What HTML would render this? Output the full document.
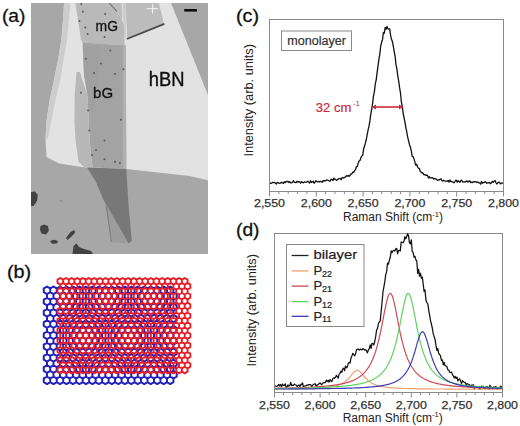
<!DOCTYPE html>
<html><head><meta charset="utf-8"><style>html,body{margin:0;padding:0;background:#fff;width:520px;height:426px;overflow:hidden}svg{display:block}</style></head>
<body>
<svg width="520" height="426" viewBox="0 0 520 426" font-family='"Liberation Sans", sans-serif'>
<defs><clipPath id="micclip"><rect x="31" y="3" width="177" height="251"/></clipPath>
<filter id="soft" x="0" y="0" width="1" height="1"><feGaussianBlur stdDeviation="0.5"/></filter><filter id="soft2" x="-5%" y="-5%" width="110%" height="110%"><feGaussianBlur stdDeviation="0.65"/></filter></defs>
<rect width="520" height="426" fill="#fff"/>
<g clip-path="url(#micclip)"><g filter="url(#soft)"><rect x="31" y="3" width="177" height="251" fill="#a7a7a7"/><polygon points="64.1,3.0 171.0,3.0 208.0,95.0 208.0,180.2 189.7,176.0 126.3,169.0 87.0,167.6 78.3,166.6 59.2,163.5 46.5,157.0 45.5,140.0 46.6,120.0 49.7,100.0 54.0,80.0 58.0,60.0 61.3,40.0 63.0,20.0" fill="#e2e2e2" /><polygon points="64.1,3.0 70.5,3.0 69.0,20.0 67.0,40.0 63.5,60.0 60.4,80.0 55.5,100.0 51.5,120.0 48.0,138.0 45.5,140.0 46.6,120.0 49.7,100.0 54.0,80.0 58.0,60.0 61.3,40.0 63.0,20.0" fill="#cdcdcd" /><polygon points="75.4,3.0 109.3,3.0 116.4,10.6 122.0,20.0 124.0,25.0 124.5,45.5 82.6,42.5 81.0,40.0 78.0,20.0" fill="#b9b9b9" /><polygon points="109.3,3.0 121.6,3.0 122.5,20.0 116.4,10.6" fill="#bdbdbd" /><polygon points="122.5,3.0 125.5,3.0 125.8,38.0 124.5,38.0" fill="#cacaca" /><polygon points="125.5,3.0 158.8,3.0 164.2,24.2 127.2,39.0" fill="#bcbcbc" /><line x1="126.8" y1="39" x2="164.4" y2="23.8" stroke="#4a4a4a" stroke-width="1.8"/><line x1="109.3" y1="3" x2="117" y2="11.5" stroke="#666" stroke-width="1.1"/><polygon points="82.6,42.5 125.8,45.5 126.3,169.0 92.5,167.6 89.5,140.0 88.5,115.0 87.5,95.0 84.0,75.0" fill="#a3a3a3" /><polygon points="122.8,45.0 125.8,45.0 126.3,169.0 122.8,169.0" fill="#b0b0b0" /><polygon points="83.0,46.0 100.0,46.0 98.0,80.0 94.0,110.0 89.0,112.0 87.5,95.0 84.0,75.0" fill="#a0a0a0" /><polygon points="76.5,72.0 80.0,72.0 84.0,85.0 87.5,95.0 88.5,115.0 89.5,140.0 92.5,167.6 84.0,167.0 78.5,162.0 75.5,140.0 74.5,122.0 74.7,95.0" fill="#b8b8b8" /><polygon points="87.0,167.6 126.3,169.0 128.5,205.0 131.8,240.7 128.5,243.5 109.5,210.4 104.0,201.0 96.0,182.0" fill="#787878" /><polygon points="104.0,201.0 109.5,210.4 128.5,243.5 112.0,242.0" fill="#9c9c9c" /><line x1="106.5" y1="206" x2="111.3" y2="242" stroke="#7a7a7a" stroke-width="1"/><polygon points="31.0,192.0 35.0,191.5 37.8,195.0 37.0,201.0 33.5,206.0 31.0,206.0" fill="#424242" /><polygon points="40.5,226.0 44.0,224.5 48.0,226.0 48.8,231.0 46.0,234.5 41.5,233.5 40.0,230.0" fill="#424242" /><polygon points="50.0,241.0 54.0,239.8 58.0,241.0 57.0,243.6 52.0,243.8" fill="#424242" /><polygon points="66.0,238.0 70.5,232.0 74.5,230.0 75.0,233.0 71.0,237.0 67.5,240.0" fill="#424242" /><polygon points="72.5,254.0 73.5,246.0 76.5,243.5 79.0,247.0 84.0,249.0 91.0,251.0 93.0,254.0" fill="#424242" /><polygon points="59.5,200.0 62.5,200.5 63.0,202.0 60.0,201.5" fill="#8a8a8a" /><circle cx="81.2" cy="4.1" r="1.0" fill="#5a5a5a"/><circle cx="82.9" cy="11.7" r="1.0" fill="#5a5a5a"/><circle cx="105.2" cy="14.1" r="1.0" fill="#5a5a5a"/><circle cx="85.3" cy="27.6" r="1.0" fill="#5a5a5a"/><circle cx="87.6" cy="34.0" r="1.0" fill="#5a5a5a"/><circle cx="104.6" cy="37.0" r="1.0" fill="#5a5a5a"/><circle cx="79.4" cy="21.0" r="1.0" fill="#5a5a5a"/><circle cx="110.4" cy="50.6" r="1.0" fill="#5a5a5a"/><circle cx="101.0" cy="63.5" r="1.0" fill="#5a5a5a"/><circle cx="123.3" cy="69.3" r="1.0" fill="#5a5a5a"/><circle cx="94.0" cy="72.9" r="1.0" fill="#5a5a5a"/><circle cx="85.8" cy="58.8" r="1.0" fill="#5a5a5a"/><circle cx="115.0" cy="74.0" r="1.0" fill="#5a5a5a"/><circle cx="88.1" cy="110.4" r="1.0" fill="#5a5a5a"/><circle cx="121.0" cy="119.8" r="1.0" fill="#5a5a5a"/><circle cx="89.3" cy="130.4" r="1.0" fill="#5a5a5a"/><circle cx="81.0" cy="92.8" r="1.0" fill="#5a5a5a"/><circle cx="104.5" cy="140.6" r="1.0" fill="#5a5a5a"/><circle cx="104.5" cy="159.3" r="1.0" fill="#5a5a5a"/><circle cx="115.0" cy="161.7" r="1.0" fill="#5a5a5a"/><circle cx="119.8" cy="162.9" r="1.0" fill="#5a5a5a"/><circle cx="96.0" cy="150.0" r="1.0" fill="#5a5a5a"/><circle cx="92.0" cy="155.0" r="1.0" fill="#5a5a5a"/><path d="M146.7 8.7H158.2M152.6 4V13.5" stroke="#f4f4f4" stroke-width="1"/><rect x="184.2" y="9" width="12.7" height="2.6" fill="#111"/><text x="95.6" y="31" font-size="14.5" fill="#111" stroke="#111" stroke-width="0.3" textLength="22.4" lengthAdjust="spacingAndGlyphs">mG</text><text x="93.1" y="97.7" font-size="15.5" fill="#111" stroke="#111" stroke-width="0.3" textLength="20" lengthAdjust="spacingAndGlyphs">bG</text><text x="148.7" y="86.4" font-size="20" fill="#111" stroke="#111" stroke-width="0.4" textLength="35.7" lengthAdjust="spacingAndGlyphs">hBN</text></g></g>
<g filter="url(#soft2)">
<path d="M50.24 292.18 L47.00 294.05 L43.76 292.18 L43.76 288.43 L47.00 286.55 L50.24 288.43ZM56.73 292.18 L53.48 294.05 L50.24 292.18 L50.24 288.43 L53.48 286.55 L56.73 288.43ZM63.21 292.18 L59.97 294.05 L56.73 292.18 L56.73 288.43 L59.97 286.55 L63.21 288.43ZM69.69 292.18 L66.45 294.05 L63.21 292.18 L63.21 288.43 L66.45 286.55 L69.69 288.43ZM76.18 292.18 L72.94 294.05 L69.69 292.18 L69.69 288.43 L72.94 286.55 L76.18 288.43ZM82.66 292.18 L79.42 294.05 L76.18 292.18 L76.18 288.43 L79.42 286.55 L82.66 288.43ZM89.15 292.18 L85.90 294.05 L82.66 292.18 L82.66 288.43 L85.90 286.55 L89.15 288.43ZM95.63 292.18 L92.39 294.05 L89.15 292.18 L89.15 288.43 L92.39 286.55 L95.63 288.43ZM102.11 292.18 L98.87 294.05 L95.63 292.18 L95.63 288.43 L98.87 286.55 L102.11 288.43ZM108.60 292.18 L105.36 294.05 L102.11 292.18 L102.11 288.43 L105.36 286.55 L108.60 288.43ZM115.08 292.18 L111.84 294.05 L108.60 292.18 L108.60 288.43 L111.84 286.55 L115.08 288.43ZM121.57 292.18 L118.32 294.05 L115.08 292.18 L115.08 288.43 L118.32 286.55 L121.57 288.43ZM128.05 292.18 L124.81 294.05 L121.57 292.18 L121.57 288.43 L124.81 286.55 L128.05 288.43ZM134.53 292.18 L131.29 294.05 L128.05 292.18 L128.05 288.43 L131.29 286.55 L134.53 288.43ZM141.02 292.18 L137.78 294.05 L134.53 292.18 L134.53 288.43 L137.78 286.55 L141.02 288.43ZM147.50 292.18 L144.26 294.05 L141.02 292.18 L141.02 288.43 L144.26 286.55 L147.50 288.43ZM153.99 292.18 L150.74 294.05 L147.50 292.18 L147.50 288.43 L150.74 286.55 L153.99 288.43ZM160.47 292.18 L157.23 294.05 L153.99 292.18 L153.99 288.43 L157.23 286.55 L160.47 288.43ZM166.95 292.18 L163.71 294.05 L160.47 292.18 L160.47 288.43 L163.71 286.55 L166.95 288.43ZM173.44 292.18 L170.20 294.05 L166.95 292.18 L166.95 288.43 L170.20 286.55 L173.44 288.43ZM53.48 297.80 L50.24 299.68 L47.00 297.80 L47.00 294.05 L50.24 292.18 L53.48 294.05ZM59.97 297.80 L56.73 299.68 L53.48 297.80 L53.48 294.05 L56.73 292.18 L59.97 294.05ZM66.45 297.80 L63.21 299.68 L59.97 297.80 L59.97 294.05 L63.21 292.18 L66.45 294.05ZM72.94 297.80 L69.69 299.68 L66.45 297.80 L66.45 294.05 L69.69 292.18 L72.94 294.05ZM79.42 297.80 L76.18 299.68 L72.94 297.80 L72.94 294.05 L76.18 292.18 L79.42 294.05ZM85.90 297.80 L82.66 299.68 L79.42 297.80 L79.42 294.05 L82.66 292.18 L85.90 294.05ZM92.39 297.80 L89.15 299.68 L85.90 297.80 L85.90 294.05 L89.15 292.18 L92.39 294.05ZM98.87 297.80 L95.63 299.68 L92.39 297.80 L92.39 294.05 L95.63 292.18 L98.87 294.05ZM105.36 297.80 L102.11 299.68 L98.87 297.80 L98.87 294.05 L102.11 292.18 L105.36 294.05ZM111.84 297.80 L108.60 299.68 L105.36 297.80 L105.36 294.05 L108.60 292.18 L111.84 294.05ZM118.32 297.80 L115.08 299.68 L111.84 297.80 L111.84 294.05 L115.08 292.18 L118.32 294.05ZM124.81 297.80 L121.57 299.68 L118.32 297.80 L118.32 294.05 L121.57 292.18 L124.81 294.05ZM131.29 297.80 L128.05 299.68 L124.81 297.80 L124.81 294.05 L128.05 292.18 L131.29 294.05ZM137.78 297.80 L134.53 299.68 L131.29 297.80 L131.29 294.05 L134.53 292.18 L137.78 294.05ZM144.26 297.80 L141.02 299.68 L137.78 297.80 L137.78 294.05 L141.02 292.18 L144.26 294.05ZM150.74 297.80 L147.50 299.68 L144.26 297.80 L144.26 294.05 L147.50 292.18 L150.74 294.05ZM157.23 297.80 L153.99 299.68 L150.74 297.80 L150.74 294.05 L153.99 292.18 L157.23 294.05ZM163.71 297.80 L160.47 299.68 L157.23 297.80 L157.23 294.05 L160.47 292.18 L163.71 294.05ZM170.20 297.80 L166.95 299.68 L163.71 297.80 L163.71 294.05 L166.95 292.18 L170.20 294.05ZM176.68 297.80 L173.44 299.68 L170.20 297.80 L170.20 294.05 L173.44 292.18 L176.68 294.05ZM50.24 303.43 L47.00 305.30 L43.76 303.43 L43.76 299.68 L47.00 297.80 L50.24 299.68ZM56.73 303.43 L53.48 305.30 L50.24 303.43 L50.24 299.68 L53.48 297.80 L56.73 299.68ZM63.21 303.43 L59.97 305.30 L56.73 303.43 L56.73 299.68 L59.97 297.80 L63.21 299.68ZM69.69 303.43 L66.45 305.30 L63.21 303.43 L63.21 299.68 L66.45 297.80 L69.69 299.68ZM76.18 303.43 L72.94 305.30 L69.69 303.43 L69.69 299.68 L72.94 297.80 L76.18 299.68ZM82.66 303.43 L79.42 305.30 L76.18 303.43 L76.18 299.68 L79.42 297.80 L82.66 299.68ZM89.15 303.43 L85.90 305.30 L82.66 303.43 L82.66 299.68 L85.90 297.80 L89.15 299.68ZM95.63 303.43 L92.39 305.30 L89.15 303.43 L89.15 299.68 L92.39 297.80 L95.63 299.68ZM102.11 303.43 L98.87 305.30 L95.63 303.43 L95.63 299.68 L98.87 297.80 L102.11 299.68ZM108.60 303.43 L105.36 305.30 L102.11 303.43 L102.11 299.68 L105.36 297.80 L108.60 299.68ZM115.08 303.43 L111.84 305.30 L108.60 303.43 L108.60 299.68 L111.84 297.80 L115.08 299.68ZM121.57 303.43 L118.32 305.30 L115.08 303.43 L115.08 299.68 L118.32 297.80 L121.57 299.68ZM128.05 303.43 L124.81 305.30 L121.57 303.43 L121.57 299.68 L124.81 297.80 L128.05 299.68ZM134.53 303.43 L131.29 305.30 L128.05 303.43 L128.05 299.68 L131.29 297.80 L134.53 299.68ZM141.02 303.43 L137.78 305.30 L134.53 303.43 L134.53 299.68 L137.78 297.80 L141.02 299.68ZM147.50 303.43 L144.26 305.30 L141.02 303.43 L141.02 299.68 L144.26 297.80 L147.50 299.68ZM153.99 303.43 L150.74 305.30 L147.50 303.43 L147.50 299.68 L150.74 297.80 L153.99 299.68ZM160.47 303.43 L157.23 305.30 L153.99 303.43 L153.99 299.68 L157.23 297.80 L160.47 299.68ZM166.95 303.43 L163.71 305.30 L160.47 303.43 L160.47 299.68 L163.71 297.80 L166.95 299.68ZM173.44 303.43 L170.20 305.30 L166.95 303.43 L166.95 299.68 L170.20 297.80 L173.44 299.68ZM53.48 309.05 L50.24 310.93 L47.00 309.05 L47.00 305.30 L50.24 303.43 L53.48 305.30ZM59.97 309.05 L56.73 310.93 L53.48 309.05 L53.48 305.30 L56.73 303.43 L59.97 305.30ZM66.45 309.05 L63.21 310.93 L59.97 309.05 L59.97 305.30 L63.21 303.43 L66.45 305.30ZM72.94 309.05 L69.69 310.93 L66.45 309.05 L66.45 305.30 L69.69 303.43 L72.94 305.30ZM79.42 309.05 L76.18 310.93 L72.94 309.05 L72.94 305.30 L76.18 303.43 L79.42 305.30ZM85.90 309.05 L82.66 310.93 L79.42 309.05 L79.42 305.30 L82.66 303.43 L85.90 305.30ZM92.39 309.05 L89.15 310.93 L85.90 309.05 L85.90 305.30 L89.15 303.43 L92.39 305.30ZM98.87 309.05 L95.63 310.93 L92.39 309.05 L92.39 305.30 L95.63 303.43 L98.87 305.30ZM105.36 309.05 L102.11 310.93 L98.87 309.05 L98.87 305.30 L102.11 303.43 L105.36 305.30ZM111.84 309.05 L108.60 310.93 L105.36 309.05 L105.36 305.30 L108.60 303.43 L111.84 305.30ZM118.32 309.05 L115.08 310.93 L111.84 309.05 L111.84 305.30 L115.08 303.43 L118.32 305.30ZM124.81 309.05 L121.57 310.93 L118.32 309.05 L118.32 305.30 L121.57 303.43 L124.81 305.30ZM131.29 309.05 L128.05 310.93 L124.81 309.05 L124.81 305.30 L128.05 303.43 L131.29 305.30ZM137.78 309.05 L134.53 310.93 L131.29 309.05 L131.29 305.30 L134.53 303.43 L137.78 305.30ZM144.26 309.05 L141.02 310.93 L137.78 309.05 L137.78 305.30 L141.02 303.43 L144.26 305.30ZM150.74 309.05 L147.50 310.93 L144.26 309.05 L144.26 305.30 L147.50 303.43 L150.74 305.30ZM157.23 309.05 L153.99 310.93 L150.74 309.05 L150.74 305.30 L153.99 303.43 L157.23 305.30ZM163.71 309.05 L160.47 310.93 L157.23 309.05 L157.23 305.30 L160.47 303.43 L163.71 305.30ZM170.20 309.05 L166.95 310.93 L163.71 309.05 L163.71 305.30 L166.95 303.43 L170.20 305.30ZM176.68 309.05 L173.44 310.93 L170.20 309.05 L170.20 305.30 L173.44 303.43 L176.68 305.30ZM50.24 314.68 L47.00 316.55 L43.76 314.68 L43.76 310.93 L47.00 309.05 L50.24 310.93ZM56.73 314.68 L53.48 316.55 L50.24 314.68 L50.24 310.93 L53.48 309.05 L56.73 310.93ZM63.21 314.68 L59.97 316.55 L56.73 314.68 L56.73 310.93 L59.97 309.05 L63.21 310.93ZM69.69 314.68 L66.45 316.55 L63.21 314.68 L63.21 310.93 L66.45 309.05 L69.69 310.93ZM76.18 314.68 L72.94 316.55 L69.69 314.68 L69.69 310.93 L72.94 309.05 L76.18 310.93ZM82.66 314.68 L79.42 316.55 L76.18 314.68 L76.18 310.93 L79.42 309.05 L82.66 310.93ZM89.15 314.68 L85.90 316.55 L82.66 314.68 L82.66 310.93 L85.90 309.05 L89.15 310.93ZM95.63 314.68 L92.39 316.55 L89.15 314.68 L89.15 310.93 L92.39 309.05 L95.63 310.93ZM102.11 314.68 L98.87 316.55 L95.63 314.68 L95.63 310.93 L98.87 309.05 L102.11 310.93ZM108.60 314.68 L105.36 316.55 L102.11 314.68 L102.11 310.93 L105.36 309.05 L108.60 310.93ZM115.08 314.68 L111.84 316.55 L108.60 314.68 L108.60 310.93 L111.84 309.05 L115.08 310.93ZM121.57 314.68 L118.32 316.55 L115.08 314.68 L115.08 310.93 L118.32 309.05 L121.57 310.93ZM128.05 314.68 L124.81 316.55 L121.57 314.68 L121.57 310.93 L124.81 309.05 L128.05 310.93ZM134.53 314.68 L131.29 316.55 L128.05 314.68 L128.05 310.93 L131.29 309.05 L134.53 310.93ZM141.02 314.68 L137.78 316.55 L134.53 314.68 L134.53 310.93 L137.78 309.05 L141.02 310.93ZM147.50 314.68 L144.26 316.55 L141.02 314.68 L141.02 310.93 L144.26 309.05 L147.50 310.93ZM153.99 314.68 L150.74 316.55 L147.50 314.68 L147.50 310.93 L150.74 309.05 L153.99 310.93ZM160.47 314.68 L157.23 316.55 L153.99 314.68 L153.99 310.93 L157.23 309.05 L160.47 310.93ZM166.95 314.68 L163.71 316.55 L160.47 314.68 L160.47 310.93 L163.71 309.05 L166.95 310.93ZM173.44 314.68 L170.20 316.55 L166.95 314.68 L166.95 310.93 L170.20 309.05 L173.44 310.93ZM53.48 320.30 L50.24 322.18 L47.00 320.30 L47.00 316.55 L50.24 314.68 L53.48 316.55ZM59.97 320.30 L56.73 322.18 L53.48 320.30 L53.48 316.55 L56.73 314.68 L59.97 316.55ZM66.45 320.30 L63.21 322.18 L59.97 320.30 L59.97 316.55 L63.21 314.68 L66.45 316.55ZM72.94 320.30 L69.69 322.18 L66.45 320.30 L66.45 316.55 L69.69 314.68 L72.94 316.55ZM79.42 320.30 L76.18 322.18 L72.94 320.30 L72.94 316.55 L76.18 314.68 L79.42 316.55ZM85.90 320.30 L82.66 322.18 L79.42 320.30 L79.42 316.55 L82.66 314.68 L85.90 316.55ZM92.39 320.30 L89.15 322.18 L85.90 320.30 L85.90 316.55 L89.15 314.68 L92.39 316.55ZM98.87 320.30 L95.63 322.18 L92.39 320.30 L92.39 316.55 L95.63 314.68 L98.87 316.55ZM105.36 320.30 L102.11 322.18 L98.87 320.30 L98.87 316.55 L102.11 314.68 L105.36 316.55ZM111.84 320.30 L108.60 322.18 L105.36 320.30 L105.36 316.55 L108.60 314.68 L111.84 316.55ZM118.32 320.30 L115.08 322.18 L111.84 320.30 L111.84 316.55 L115.08 314.68 L118.32 316.55ZM124.81 320.30 L121.57 322.18 L118.32 320.30 L118.32 316.55 L121.57 314.68 L124.81 316.55ZM131.29 320.30 L128.05 322.18 L124.81 320.30 L124.81 316.55 L128.05 314.68 L131.29 316.55ZM137.78 320.30 L134.53 322.18 L131.29 320.30 L131.29 316.55 L134.53 314.68 L137.78 316.55ZM144.26 320.30 L141.02 322.18 L137.78 320.30 L137.78 316.55 L141.02 314.68 L144.26 316.55ZM150.74 320.30 L147.50 322.18 L144.26 320.30 L144.26 316.55 L147.50 314.68 L150.74 316.55ZM157.23 320.30 L153.99 322.18 L150.74 320.30 L150.74 316.55 L153.99 314.68 L157.23 316.55ZM163.71 320.30 L160.47 322.18 L157.23 320.30 L157.23 316.55 L160.47 314.68 L163.71 316.55ZM170.20 320.30 L166.95 322.18 L163.71 320.30 L163.71 316.55 L166.95 314.68 L170.20 316.55ZM176.68 320.30 L173.44 322.18 L170.20 320.30 L170.20 316.55 L173.44 314.68 L176.68 316.55ZM50.24 325.93 L47.00 327.80 L43.76 325.93 L43.76 322.18 L47.00 320.30 L50.24 322.18ZM56.73 325.93 L53.48 327.80 L50.24 325.93 L50.24 322.18 L53.48 320.30 L56.73 322.18ZM63.21 325.93 L59.97 327.80 L56.73 325.93 L56.73 322.18 L59.97 320.30 L63.21 322.18ZM69.69 325.93 L66.45 327.80 L63.21 325.93 L63.21 322.18 L66.45 320.30 L69.69 322.18ZM76.18 325.93 L72.94 327.80 L69.69 325.93 L69.69 322.18 L72.94 320.30 L76.18 322.18ZM82.66 325.93 L79.42 327.80 L76.18 325.93 L76.18 322.18 L79.42 320.30 L82.66 322.18ZM89.15 325.93 L85.90 327.80 L82.66 325.93 L82.66 322.18 L85.90 320.30 L89.15 322.18ZM95.63 325.93 L92.39 327.80 L89.15 325.93 L89.15 322.18 L92.39 320.30 L95.63 322.18ZM102.11 325.93 L98.87 327.80 L95.63 325.93 L95.63 322.18 L98.87 320.30 L102.11 322.18ZM108.60 325.93 L105.36 327.80 L102.11 325.93 L102.11 322.18 L105.36 320.30 L108.60 322.18ZM115.08 325.93 L111.84 327.80 L108.60 325.93 L108.60 322.18 L111.84 320.30 L115.08 322.18ZM121.57 325.93 L118.32 327.80 L115.08 325.93 L115.08 322.18 L118.32 320.30 L121.57 322.18ZM128.05 325.93 L124.81 327.80 L121.57 325.93 L121.57 322.18 L124.81 320.30 L128.05 322.18ZM134.53 325.93 L131.29 327.80 L128.05 325.93 L128.05 322.18 L131.29 320.30 L134.53 322.18ZM141.02 325.93 L137.78 327.80 L134.53 325.93 L134.53 322.18 L137.78 320.30 L141.02 322.18ZM147.50 325.93 L144.26 327.80 L141.02 325.93 L141.02 322.18 L144.26 320.30 L147.50 322.18ZM153.99 325.93 L150.74 327.80 L147.50 325.93 L147.50 322.18 L150.74 320.30 L153.99 322.18ZM160.47 325.93 L157.23 327.80 L153.99 325.93 L153.99 322.18 L157.23 320.30 L160.47 322.18ZM166.95 325.93 L163.71 327.80 L160.47 325.93 L160.47 322.18 L163.71 320.30 L166.95 322.18ZM173.44 325.93 L170.20 327.80 L166.95 325.93 L166.95 322.18 L170.20 320.30 L173.44 322.18ZM53.48 331.55 L50.24 333.43 L47.00 331.55 L47.00 327.80 L50.24 325.93 L53.48 327.80ZM59.97 331.55 L56.73 333.43 L53.48 331.55 L53.48 327.80 L56.73 325.93 L59.97 327.80ZM66.45 331.55 L63.21 333.43 L59.97 331.55 L59.97 327.80 L63.21 325.93 L66.45 327.80ZM72.94 331.55 L69.69 333.43 L66.45 331.55 L66.45 327.80 L69.69 325.93 L72.94 327.80ZM79.42 331.55 L76.18 333.43 L72.94 331.55 L72.94 327.80 L76.18 325.93 L79.42 327.80ZM85.90 331.55 L82.66 333.43 L79.42 331.55 L79.42 327.80 L82.66 325.93 L85.90 327.80ZM92.39 331.55 L89.15 333.43 L85.90 331.55 L85.90 327.80 L89.15 325.93 L92.39 327.80ZM98.87 331.55 L95.63 333.43 L92.39 331.55 L92.39 327.80 L95.63 325.93 L98.87 327.80ZM105.36 331.55 L102.11 333.43 L98.87 331.55 L98.87 327.80 L102.11 325.93 L105.36 327.80ZM111.84 331.55 L108.60 333.43 L105.36 331.55 L105.36 327.80 L108.60 325.93 L111.84 327.80ZM118.32 331.55 L115.08 333.43 L111.84 331.55 L111.84 327.80 L115.08 325.93 L118.32 327.80ZM124.81 331.55 L121.57 333.43 L118.32 331.55 L118.32 327.80 L121.57 325.93 L124.81 327.80ZM131.29 331.55 L128.05 333.43 L124.81 331.55 L124.81 327.80 L128.05 325.93 L131.29 327.80ZM137.78 331.55 L134.53 333.43 L131.29 331.55 L131.29 327.80 L134.53 325.93 L137.78 327.80ZM144.26 331.55 L141.02 333.43 L137.78 331.55 L137.78 327.80 L141.02 325.93 L144.26 327.80ZM150.74 331.55 L147.50 333.43 L144.26 331.55 L144.26 327.80 L147.50 325.93 L150.74 327.80ZM157.23 331.55 L153.99 333.43 L150.74 331.55 L150.74 327.80 L153.99 325.93 L157.23 327.80ZM163.71 331.55 L160.47 333.43 L157.23 331.55 L157.23 327.80 L160.47 325.93 L163.71 327.80ZM170.20 331.55 L166.95 333.43 L163.71 331.55 L163.71 327.80 L166.95 325.93 L170.20 327.80ZM176.68 331.55 L173.44 333.43 L170.20 331.55 L170.20 327.80 L173.44 325.93 L176.68 327.80ZM50.24 337.18 L47.00 339.05 L43.76 337.18 L43.76 333.43 L47.00 331.55 L50.24 333.43ZM56.73 337.18 L53.48 339.05 L50.24 337.18 L50.24 333.43 L53.48 331.55 L56.73 333.43ZM63.21 337.18 L59.97 339.05 L56.73 337.18 L56.73 333.43 L59.97 331.55 L63.21 333.43ZM69.69 337.18 L66.45 339.05 L63.21 337.18 L63.21 333.43 L66.45 331.55 L69.69 333.43ZM76.18 337.18 L72.94 339.05 L69.69 337.18 L69.69 333.43 L72.94 331.55 L76.18 333.43ZM82.66 337.18 L79.42 339.05 L76.18 337.18 L76.18 333.43 L79.42 331.55 L82.66 333.43ZM89.15 337.18 L85.90 339.05 L82.66 337.18 L82.66 333.43 L85.90 331.55 L89.15 333.43ZM95.63 337.18 L92.39 339.05 L89.15 337.18 L89.15 333.43 L92.39 331.55 L95.63 333.43ZM102.11 337.18 L98.87 339.05 L95.63 337.18 L95.63 333.43 L98.87 331.55 L102.11 333.43ZM108.60 337.18 L105.36 339.05 L102.11 337.18 L102.11 333.43 L105.36 331.55 L108.60 333.43ZM115.08 337.18 L111.84 339.05 L108.60 337.18 L108.60 333.43 L111.84 331.55 L115.08 333.43ZM121.57 337.18 L118.32 339.05 L115.08 337.18 L115.08 333.43 L118.32 331.55 L121.57 333.43ZM128.05 337.18 L124.81 339.05 L121.57 337.18 L121.57 333.43 L124.81 331.55 L128.05 333.43ZM134.53 337.18 L131.29 339.05 L128.05 337.18 L128.05 333.43 L131.29 331.55 L134.53 333.43ZM141.02 337.18 L137.78 339.05 L134.53 337.18 L134.53 333.43 L137.78 331.55 L141.02 333.43ZM147.50 337.18 L144.26 339.05 L141.02 337.18 L141.02 333.43 L144.26 331.55 L147.50 333.43ZM153.99 337.18 L150.74 339.05 L147.50 337.18 L147.50 333.43 L150.74 331.55 L153.99 333.43ZM160.47 337.18 L157.23 339.05 L153.99 337.18 L153.99 333.43 L157.23 331.55 L160.47 333.43ZM166.95 337.18 L163.71 339.05 L160.47 337.18 L160.47 333.43 L163.71 331.55 L166.95 333.43ZM173.44 337.18 L170.20 339.05 L166.95 337.18 L166.95 333.43 L170.20 331.55 L173.44 333.43ZM53.48 342.80 L50.24 344.68 L47.00 342.80 L47.00 339.05 L50.24 337.18 L53.48 339.05ZM59.97 342.80 L56.73 344.68 L53.48 342.80 L53.48 339.05 L56.73 337.18 L59.97 339.05ZM66.45 342.80 L63.21 344.68 L59.97 342.80 L59.97 339.05 L63.21 337.18 L66.45 339.05ZM72.94 342.80 L69.69 344.68 L66.45 342.80 L66.45 339.05 L69.69 337.18 L72.94 339.05ZM79.42 342.80 L76.18 344.68 L72.94 342.80 L72.94 339.05 L76.18 337.18 L79.42 339.05ZM85.90 342.80 L82.66 344.68 L79.42 342.80 L79.42 339.05 L82.66 337.18 L85.90 339.05ZM92.39 342.80 L89.15 344.68 L85.90 342.80 L85.90 339.05 L89.15 337.18 L92.39 339.05ZM98.87 342.80 L95.63 344.68 L92.39 342.80 L92.39 339.05 L95.63 337.18 L98.87 339.05ZM105.36 342.80 L102.11 344.68 L98.87 342.80 L98.87 339.05 L102.11 337.18 L105.36 339.05ZM111.84 342.80 L108.60 344.68 L105.36 342.80 L105.36 339.05 L108.60 337.18 L111.84 339.05ZM118.32 342.80 L115.08 344.68 L111.84 342.80 L111.84 339.05 L115.08 337.18 L118.32 339.05ZM124.81 342.80 L121.57 344.68 L118.32 342.80 L118.32 339.05 L121.57 337.18 L124.81 339.05ZM131.29 342.80 L128.05 344.68 L124.81 342.80 L124.81 339.05 L128.05 337.18 L131.29 339.05ZM137.78 342.80 L134.53 344.68 L131.29 342.80 L131.29 339.05 L134.53 337.18 L137.78 339.05ZM144.26 342.80 L141.02 344.68 L137.78 342.80 L137.78 339.05 L141.02 337.18 L144.26 339.05ZM150.74 342.80 L147.50 344.68 L144.26 342.80 L144.26 339.05 L147.50 337.18 L150.74 339.05ZM157.23 342.80 L153.99 344.68 L150.74 342.80 L150.74 339.05 L153.99 337.18 L157.23 339.05ZM163.71 342.80 L160.47 344.68 L157.23 342.80 L157.23 339.05 L160.47 337.18 L163.71 339.05ZM170.20 342.80 L166.95 344.68 L163.71 342.80 L163.71 339.05 L166.95 337.18 L170.20 339.05ZM176.68 342.80 L173.44 344.68 L170.20 342.80 L170.20 339.05 L173.44 337.18 L176.68 339.05ZM50.24 348.43 L47.00 350.30 L43.76 348.43 L43.76 344.68 L47.00 342.80 L50.24 344.68ZM56.73 348.43 L53.48 350.30 L50.24 348.43 L50.24 344.68 L53.48 342.80 L56.73 344.68ZM63.21 348.43 L59.97 350.30 L56.73 348.43 L56.73 344.68 L59.97 342.80 L63.21 344.68ZM69.69 348.43 L66.45 350.30 L63.21 348.43 L63.21 344.68 L66.45 342.80 L69.69 344.68ZM76.18 348.43 L72.94 350.30 L69.69 348.43 L69.69 344.68 L72.94 342.80 L76.18 344.68ZM82.66 348.43 L79.42 350.30 L76.18 348.43 L76.18 344.68 L79.42 342.80 L82.66 344.68ZM89.15 348.43 L85.90 350.30 L82.66 348.43 L82.66 344.68 L85.90 342.80 L89.15 344.68ZM95.63 348.43 L92.39 350.30 L89.15 348.43 L89.15 344.68 L92.39 342.80 L95.63 344.68ZM102.11 348.43 L98.87 350.30 L95.63 348.43 L95.63 344.68 L98.87 342.80 L102.11 344.68ZM108.60 348.43 L105.36 350.30 L102.11 348.43 L102.11 344.68 L105.36 342.80 L108.60 344.68ZM115.08 348.43 L111.84 350.30 L108.60 348.43 L108.60 344.68 L111.84 342.80 L115.08 344.68ZM121.57 348.43 L118.32 350.30 L115.08 348.43 L115.08 344.68 L118.32 342.80 L121.57 344.68ZM128.05 348.43 L124.81 350.30 L121.57 348.43 L121.57 344.68 L124.81 342.80 L128.05 344.68ZM134.53 348.43 L131.29 350.30 L128.05 348.43 L128.05 344.68 L131.29 342.80 L134.53 344.68ZM141.02 348.43 L137.78 350.30 L134.53 348.43 L134.53 344.68 L137.78 342.80 L141.02 344.68ZM147.50 348.43 L144.26 350.30 L141.02 348.43 L141.02 344.68 L144.26 342.80 L147.50 344.68ZM153.99 348.43 L150.74 350.30 L147.50 348.43 L147.50 344.68 L150.74 342.80 L153.99 344.68ZM160.47 348.43 L157.23 350.30 L153.99 348.43 L153.99 344.68 L157.23 342.80 L160.47 344.68ZM166.95 348.43 L163.71 350.30 L160.47 348.43 L160.47 344.68 L163.71 342.80 L166.95 344.68ZM173.44 348.43 L170.20 350.30 L166.95 348.43 L166.95 344.68 L170.20 342.80 L173.44 344.68ZM53.48 354.05 L50.24 355.93 L47.00 354.05 L47.00 350.30 L50.24 348.43 L53.48 350.30ZM59.97 354.05 L56.73 355.93 L53.48 354.05 L53.48 350.30 L56.73 348.43 L59.97 350.30ZM66.45 354.05 L63.21 355.93 L59.97 354.05 L59.97 350.30 L63.21 348.43 L66.45 350.30ZM72.94 354.05 L69.69 355.93 L66.45 354.05 L66.45 350.30 L69.69 348.43 L72.94 350.30ZM79.42 354.05 L76.18 355.93 L72.94 354.05 L72.94 350.30 L76.18 348.43 L79.42 350.30ZM85.90 354.05 L82.66 355.93 L79.42 354.05 L79.42 350.30 L82.66 348.43 L85.90 350.30ZM92.39 354.05 L89.15 355.93 L85.90 354.05 L85.90 350.30 L89.15 348.43 L92.39 350.30ZM98.87 354.05 L95.63 355.93 L92.39 354.05 L92.39 350.30 L95.63 348.43 L98.87 350.30ZM105.36 354.05 L102.11 355.93 L98.87 354.05 L98.87 350.30 L102.11 348.43 L105.36 350.30ZM111.84 354.05 L108.60 355.93 L105.36 354.05 L105.36 350.30 L108.60 348.43 L111.84 350.30ZM118.32 354.05 L115.08 355.93 L111.84 354.05 L111.84 350.30 L115.08 348.43 L118.32 350.30ZM124.81 354.05 L121.57 355.93 L118.32 354.05 L118.32 350.30 L121.57 348.43 L124.81 350.30ZM131.29 354.05 L128.05 355.93 L124.81 354.05 L124.81 350.30 L128.05 348.43 L131.29 350.30ZM137.78 354.05 L134.53 355.93 L131.29 354.05 L131.29 350.30 L134.53 348.43 L137.78 350.30ZM144.26 354.05 L141.02 355.93 L137.78 354.05 L137.78 350.30 L141.02 348.43 L144.26 350.30ZM150.74 354.05 L147.50 355.93 L144.26 354.05 L144.26 350.30 L147.50 348.43 L150.74 350.30ZM157.23 354.05 L153.99 355.93 L150.74 354.05 L150.74 350.30 L153.99 348.43 L157.23 350.30ZM163.71 354.05 L160.47 355.93 L157.23 354.05 L157.23 350.30 L160.47 348.43 L163.71 350.30ZM170.20 354.05 L166.95 355.93 L163.71 354.05 L163.71 350.30 L166.95 348.43 L170.20 350.30ZM176.68 354.05 L173.44 355.93 L170.20 354.05 L170.20 350.30 L173.44 348.43 L176.68 350.30ZM50.24 359.68 L47.00 361.55 L43.76 359.68 L43.76 355.93 L47.00 354.05 L50.24 355.93ZM56.73 359.68 L53.48 361.55 L50.24 359.68 L50.24 355.93 L53.48 354.05 L56.73 355.93ZM63.21 359.68 L59.97 361.55 L56.73 359.68 L56.73 355.93 L59.97 354.05 L63.21 355.93ZM69.69 359.68 L66.45 361.55 L63.21 359.68 L63.21 355.93 L66.45 354.05 L69.69 355.93ZM76.18 359.68 L72.94 361.55 L69.69 359.68 L69.69 355.93 L72.94 354.05 L76.18 355.93ZM82.66 359.68 L79.42 361.55 L76.18 359.68 L76.18 355.93 L79.42 354.05 L82.66 355.93ZM89.15 359.68 L85.90 361.55 L82.66 359.68 L82.66 355.93 L85.90 354.05 L89.15 355.93ZM95.63 359.68 L92.39 361.55 L89.15 359.68 L89.15 355.93 L92.39 354.05 L95.63 355.93ZM102.11 359.68 L98.87 361.55 L95.63 359.68 L95.63 355.93 L98.87 354.05 L102.11 355.93ZM108.60 359.68 L105.36 361.55 L102.11 359.68 L102.11 355.93 L105.36 354.05 L108.60 355.93ZM115.08 359.68 L111.84 361.55 L108.60 359.68 L108.60 355.93 L111.84 354.05 L115.08 355.93ZM121.57 359.68 L118.32 361.55 L115.08 359.68 L115.08 355.93 L118.32 354.05 L121.57 355.93ZM128.05 359.68 L124.81 361.55 L121.57 359.68 L121.57 355.93 L124.81 354.05 L128.05 355.93ZM134.53 359.68 L131.29 361.55 L128.05 359.68 L128.05 355.93 L131.29 354.05 L134.53 355.93ZM141.02 359.68 L137.78 361.55 L134.53 359.68 L134.53 355.93 L137.78 354.05 L141.02 355.93ZM147.50 359.68 L144.26 361.55 L141.02 359.68 L141.02 355.93 L144.26 354.05 L147.50 355.93ZM153.99 359.68 L150.74 361.55 L147.50 359.68 L147.50 355.93 L150.74 354.05 L153.99 355.93ZM160.47 359.68 L157.23 361.55 L153.99 359.68 L153.99 355.93 L157.23 354.05 L160.47 355.93ZM166.95 359.68 L163.71 361.55 L160.47 359.68 L160.47 355.93 L163.71 354.05 L166.95 355.93ZM173.44 359.68 L170.20 361.55 L166.95 359.68 L166.95 355.93 L170.20 354.05 L173.44 355.93ZM53.48 365.30 L50.24 367.18 L47.00 365.30 L47.00 361.55 L50.24 359.68 L53.48 361.55ZM59.97 365.30 L56.73 367.18 L53.48 365.30 L53.48 361.55 L56.73 359.68 L59.97 361.55ZM66.45 365.30 L63.21 367.18 L59.97 365.30 L59.97 361.55 L63.21 359.68 L66.45 361.55ZM72.94 365.30 L69.69 367.18 L66.45 365.30 L66.45 361.55 L69.69 359.68 L72.94 361.55ZM79.42 365.30 L76.18 367.18 L72.94 365.30 L72.94 361.55 L76.18 359.68 L79.42 361.55ZM85.90 365.30 L82.66 367.18 L79.42 365.30 L79.42 361.55 L82.66 359.68 L85.90 361.55ZM92.39 365.30 L89.15 367.18 L85.90 365.30 L85.90 361.55 L89.15 359.68 L92.39 361.55ZM98.87 365.30 L95.63 367.18 L92.39 365.30 L92.39 361.55 L95.63 359.68 L98.87 361.55ZM105.36 365.30 L102.11 367.18 L98.87 365.30 L98.87 361.55 L102.11 359.68 L105.36 361.55ZM111.84 365.30 L108.60 367.18 L105.36 365.30 L105.36 361.55 L108.60 359.68 L111.84 361.55ZM118.32 365.30 L115.08 367.18 L111.84 365.30 L111.84 361.55 L115.08 359.68 L118.32 361.55ZM124.81 365.30 L121.57 367.18 L118.32 365.30 L118.32 361.55 L121.57 359.68 L124.81 361.55ZM131.29 365.30 L128.05 367.18 L124.81 365.30 L124.81 361.55 L128.05 359.68 L131.29 361.55ZM137.78 365.30 L134.53 367.18 L131.29 365.30 L131.29 361.55 L134.53 359.68 L137.78 361.55ZM144.26 365.30 L141.02 367.18 L137.78 365.30 L137.78 361.55 L141.02 359.68 L144.26 361.55ZM150.74 365.30 L147.50 367.18 L144.26 365.30 L144.26 361.55 L147.50 359.68 L150.74 361.55ZM157.23 365.30 L153.99 367.18 L150.74 365.30 L150.74 361.55 L153.99 359.68 L157.23 361.55ZM163.71 365.30 L160.47 367.18 L157.23 365.30 L157.23 361.55 L160.47 359.68 L163.71 361.55ZM170.20 365.30 L166.95 367.18 L163.71 365.30 L163.71 361.55 L166.95 359.68 L170.20 361.55ZM176.68 365.30 L173.44 367.18 L170.20 365.30 L170.20 361.55 L173.44 359.68 L176.68 361.55ZM50.24 370.93 L47.00 372.80 L43.76 370.93 L43.76 367.18 L47.00 365.30 L50.24 367.18ZM56.73 370.93 L53.48 372.80 L50.24 370.93 L50.24 367.18 L53.48 365.30 L56.73 367.18ZM63.21 370.93 L59.97 372.80 L56.73 370.93 L56.73 367.18 L59.97 365.30 L63.21 367.18ZM69.69 370.93 L66.45 372.80 L63.21 370.93 L63.21 367.18 L66.45 365.30 L69.69 367.18ZM76.18 370.93 L72.94 372.80 L69.69 370.93 L69.69 367.18 L72.94 365.30 L76.18 367.18ZM82.66 370.93 L79.42 372.80 L76.18 370.93 L76.18 367.18 L79.42 365.30 L82.66 367.18ZM89.15 370.93 L85.90 372.80 L82.66 370.93 L82.66 367.18 L85.90 365.30 L89.15 367.18ZM95.63 370.93 L92.39 372.80 L89.15 370.93 L89.15 367.18 L92.39 365.30 L95.63 367.18ZM102.11 370.93 L98.87 372.80 L95.63 370.93 L95.63 367.18 L98.87 365.30 L102.11 367.18ZM108.60 370.93 L105.36 372.80 L102.11 370.93 L102.11 367.18 L105.36 365.30 L108.60 367.18ZM115.08 370.93 L111.84 372.80 L108.60 370.93 L108.60 367.18 L111.84 365.30 L115.08 367.18ZM121.57 370.93 L118.32 372.80 L115.08 370.93 L115.08 367.18 L118.32 365.30 L121.57 367.18ZM128.05 370.93 L124.81 372.80 L121.57 370.93 L121.57 367.18 L124.81 365.30 L128.05 367.18ZM134.53 370.93 L131.29 372.80 L128.05 370.93 L128.05 367.18 L131.29 365.30 L134.53 367.18ZM141.02 370.93 L137.78 372.80 L134.53 370.93 L134.53 367.18 L137.78 365.30 L141.02 367.18ZM147.50 370.93 L144.26 372.80 L141.02 370.93 L141.02 367.18 L144.26 365.30 L147.50 367.18ZM153.99 370.93 L150.74 372.80 L147.50 370.93 L147.50 367.18 L150.74 365.30 L153.99 367.18ZM160.47 370.93 L157.23 372.80 L153.99 370.93 L153.99 367.18 L157.23 365.30 L160.47 367.18ZM166.95 370.93 L163.71 372.80 L160.47 370.93 L160.47 367.18 L163.71 365.30 L166.95 367.18ZM173.44 370.93 L170.20 372.80 L166.95 370.93 L166.95 367.18 L170.20 365.30 L173.44 367.18ZM53.48 376.55 L50.24 378.43 L47.00 376.55 L47.00 372.80 L50.24 370.93 L53.48 372.80ZM59.97 376.55 L56.73 378.43 L53.48 376.55 L53.48 372.80 L56.73 370.93 L59.97 372.80ZM66.45 376.55 L63.21 378.43 L59.97 376.55 L59.97 372.80 L63.21 370.93 L66.45 372.80ZM72.94 376.55 L69.69 378.43 L66.45 376.55 L66.45 372.80 L69.69 370.93 L72.94 372.80ZM79.42 376.55 L76.18 378.43 L72.94 376.55 L72.94 372.80 L76.18 370.93 L79.42 372.80ZM85.90 376.55 L82.66 378.43 L79.42 376.55 L79.42 372.80 L82.66 370.93 L85.90 372.80ZM92.39 376.55 L89.15 378.43 L85.90 376.55 L85.90 372.80 L89.15 370.93 L92.39 372.80ZM98.87 376.55 L95.63 378.43 L92.39 376.55 L92.39 372.80 L95.63 370.93 L98.87 372.80ZM105.36 376.55 L102.11 378.43 L98.87 376.55 L98.87 372.80 L102.11 370.93 L105.36 372.80ZM111.84 376.55 L108.60 378.43 L105.36 376.55 L105.36 372.80 L108.60 370.93 L111.84 372.80ZM118.32 376.55 L115.08 378.43 L111.84 376.55 L111.84 372.80 L115.08 370.93 L118.32 372.80ZM124.81 376.55 L121.57 378.43 L118.32 376.55 L118.32 372.80 L121.57 370.93 L124.81 372.80ZM131.29 376.55 L128.05 378.43 L124.81 376.55 L124.81 372.80 L128.05 370.93 L131.29 372.80ZM137.78 376.55 L134.53 378.43 L131.29 376.55 L131.29 372.80 L134.53 370.93 L137.78 372.80ZM144.26 376.55 L141.02 378.43 L137.78 376.55 L137.78 372.80 L141.02 370.93 L144.26 372.80ZM150.74 376.55 L147.50 378.43 L144.26 376.55 L144.26 372.80 L147.50 370.93 L150.74 372.80ZM157.23 376.55 L153.99 378.43 L150.74 376.55 L150.74 372.80 L153.99 370.93 L157.23 372.80ZM163.71 376.55 L160.47 378.43 L157.23 376.55 L157.23 372.80 L160.47 370.93 L163.71 372.80ZM170.20 376.55 L166.95 378.43 L163.71 376.55 L163.71 372.80 L166.95 370.93 L170.20 372.80ZM176.68 376.55 L173.44 378.43 L170.20 376.55 L170.20 372.80 L173.44 370.93 L176.68 372.80ZM50.24 382.18 L47.00 384.05 L43.76 382.18 L43.76 378.43 L47.00 376.55 L50.24 378.43ZM56.73 382.18 L53.48 384.05 L50.24 382.18 L50.24 378.43 L53.48 376.55 L56.73 378.43ZM63.21 382.18 L59.97 384.05 L56.73 382.18 L56.73 378.43 L59.97 376.55 L63.21 378.43ZM69.69 382.18 L66.45 384.05 L63.21 382.18 L63.21 378.43 L66.45 376.55 L69.69 378.43ZM76.18 382.18 L72.94 384.05 L69.69 382.18 L69.69 378.43 L72.94 376.55 L76.18 378.43ZM82.66 382.18 L79.42 384.05 L76.18 382.18 L76.18 378.43 L79.42 376.55 L82.66 378.43ZM89.15 382.18 L85.90 384.05 L82.66 382.18 L82.66 378.43 L85.90 376.55 L89.15 378.43ZM95.63 382.18 L92.39 384.05 L89.15 382.18 L89.15 378.43 L92.39 376.55 L95.63 378.43ZM102.11 382.18 L98.87 384.05 L95.63 382.18 L95.63 378.43 L98.87 376.55 L102.11 378.43ZM108.60 382.18 L105.36 384.05 L102.11 382.18 L102.11 378.43 L105.36 376.55 L108.60 378.43ZM115.08 382.18 L111.84 384.05 L108.60 382.18 L108.60 378.43 L111.84 376.55 L115.08 378.43ZM121.57 382.18 L118.32 384.05 L115.08 382.18 L115.08 378.43 L118.32 376.55 L121.57 378.43ZM128.05 382.18 L124.81 384.05 L121.57 382.18 L121.57 378.43 L124.81 376.55 L128.05 378.43ZM134.53 382.18 L131.29 384.05 L128.05 382.18 L128.05 378.43 L131.29 376.55 L134.53 378.43ZM141.02 382.18 L137.78 384.05 L134.53 382.18 L134.53 378.43 L137.78 376.55 L141.02 378.43ZM147.50 382.18 L144.26 384.05 L141.02 382.18 L141.02 378.43 L144.26 376.55 L147.50 378.43ZM153.99 382.18 L150.74 384.05 L147.50 382.18 L147.50 378.43 L150.74 376.55 L153.99 378.43ZM160.47 382.18 L157.23 384.05 L153.99 382.18 L153.99 378.43 L157.23 376.55 L160.47 378.43ZM166.95 382.18 L163.71 384.05 L160.47 382.18 L160.47 378.43 L163.71 376.55 L166.95 378.43ZM173.44 382.18 L170.20 384.05 L166.95 382.18 L166.95 378.43 L170.20 376.55 L173.44 378.43Z" fill="none" stroke="#2020b8" stroke-width="2.00" stroke-linejoin="round"/>
<path d="M63.13 282.94 L60.30 284.59 L57.47 282.94 L57.47 279.66 L60.30 278.01 L63.13 279.66ZM68.78 282.94 L65.95 284.59 L63.13 282.94 L63.13 279.66 L65.95 278.01 L68.78 279.66ZM74.44 282.94 L71.61 284.59 L68.78 282.94 L68.78 279.66 L71.61 278.01 L74.44 279.66ZM80.09 282.94 L77.27 284.59 L74.44 282.94 L74.44 279.66 L77.27 278.01 L80.09 279.66ZM85.75 282.94 L82.92 284.59 L80.09 282.94 L80.09 279.66 L82.92 278.01 L85.75 279.66ZM91.40 282.94 L88.58 284.59 L85.75 282.94 L85.75 279.66 L88.58 278.01 L91.40 279.66ZM97.06 282.94 L94.23 284.59 L91.40 282.94 L91.40 279.66 L94.23 278.01 L97.06 279.66ZM102.71 282.94 L99.88 284.59 L97.06 282.94 L97.06 279.66 L99.88 278.01 L102.71 279.66ZM108.37 282.94 L105.54 284.59 L102.71 282.94 L102.71 279.66 L105.54 278.01 L108.37 279.66ZM114.02 282.94 L111.19 284.59 L108.37 282.94 L108.37 279.66 L111.19 278.01 L114.02 279.66ZM119.68 282.94 L116.85 284.59 L114.02 282.94 L114.02 279.66 L116.85 278.01 L119.68 279.66ZM125.33 282.94 L122.50 284.59 L119.68 282.94 L119.68 279.66 L122.50 278.01 L125.33 279.66ZM130.99 282.94 L128.16 284.59 L125.33 282.94 L125.33 279.66 L128.16 278.01 L130.99 279.66ZM136.64 282.94 L133.81 284.59 L130.99 282.94 L130.99 279.66 L133.81 278.01 L136.64 279.66ZM142.30 282.94 L139.47 284.59 L136.64 282.94 L136.64 279.66 L139.47 278.01 L142.30 279.66ZM147.95 282.94 L145.12 284.59 L142.30 282.94 L142.30 279.66 L145.12 278.01 L147.95 279.66ZM153.61 282.94 L150.78 284.59 L147.95 282.94 L147.95 279.66 L150.78 278.01 L153.61 279.66ZM159.26 282.94 L156.44 284.59 L153.61 282.94 L153.61 279.66 L156.44 278.01 L159.26 279.66ZM164.92 282.94 L162.09 284.59 L159.26 282.94 L159.26 279.66 L162.09 278.01 L164.92 279.66ZM170.57 282.94 L167.75 284.59 L164.92 282.94 L164.92 279.66 L167.75 278.01 L170.57 279.66ZM176.23 282.94 L173.40 284.59 L170.57 282.94 L170.57 279.66 L173.40 278.01 L176.23 279.66ZM181.88 282.94 L179.06 284.59 L176.23 282.94 L176.23 279.66 L179.06 278.01 L181.88 279.66ZM187.54 282.94 L184.71 284.59 L181.88 282.94 L181.88 279.66 L184.71 278.01 L187.54 279.66ZM65.96 287.87 L63.13 289.52 L60.30 287.87 L60.30 284.59 L63.13 282.94 L65.96 284.59ZM71.61 287.87 L68.78 289.52 L65.96 287.87 L65.96 284.59 L68.78 282.94 L71.61 284.59ZM77.27 287.87 L74.44 289.52 L71.61 287.87 L71.61 284.59 L74.44 282.94 L77.27 284.59ZM82.92 287.87 L80.09 289.52 L77.27 287.87 L77.27 284.59 L80.09 282.94 L82.92 284.59ZM88.58 287.87 L85.75 289.52 L82.92 287.87 L82.92 284.59 L85.75 282.94 L88.58 284.59ZM94.23 287.87 L91.41 289.52 L88.58 287.87 L88.58 284.59 L91.41 282.94 L94.23 284.59ZM99.89 287.87 L97.06 289.52 L94.23 287.87 L94.23 284.59 L97.06 282.94 L99.89 284.59ZM105.54 287.87 L102.72 289.52 L99.89 287.87 L99.89 284.59 L102.72 282.94 L105.54 284.59ZM111.20 287.87 L108.37 289.52 L105.54 287.87 L105.54 284.59 L108.37 282.94 L111.20 284.59ZM116.85 287.87 L114.03 289.52 L111.20 287.87 L111.20 284.59 L114.03 282.94 L116.85 284.59ZM122.51 287.87 L119.68 289.52 L116.85 287.87 L116.85 284.59 L119.68 282.94 L122.51 284.59ZM128.16 287.87 L125.34 289.52 L122.51 287.87 L122.51 284.59 L125.34 282.94 L128.16 284.59ZM133.82 287.87 L130.99 289.52 L128.16 287.87 L128.16 284.59 L130.99 282.94 L133.82 284.59ZM139.47 287.87 L136.64 289.52 L133.82 287.87 L133.82 284.59 L136.64 282.94 L139.47 284.59ZM145.13 287.87 L142.30 289.52 L139.47 287.87 L139.47 284.59 L142.30 282.94 L145.13 284.59ZM150.78 287.87 L147.95 289.52 L145.13 287.87 L145.13 284.59 L147.95 282.94 L150.78 284.59ZM156.44 287.87 L153.61 289.52 L150.78 287.87 L150.78 284.59 L153.61 282.94 L156.44 284.59ZM162.09 287.87 L159.26 289.52 L156.44 287.87 L156.44 284.59 L159.26 282.94 L162.09 284.59ZM167.75 287.87 L164.92 289.52 L162.09 287.87 L162.09 284.59 L164.92 282.94 L167.75 284.59ZM173.40 287.87 L170.57 289.52 L167.75 287.87 L167.75 284.59 L170.57 282.94 L173.40 284.59ZM179.06 287.87 L176.23 289.52 L173.40 287.87 L173.40 284.59 L176.23 282.94 L179.06 284.59ZM184.71 287.87 L181.88 289.52 L179.06 287.87 L179.06 284.59 L181.88 282.94 L184.71 284.59ZM190.37 287.87 L187.54 289.52 L184.71 287.87 L184.71 284.59 L187.54 282.94 L190.37 284.59ZM63.13 292.80 L60.30 294.45 L57.47 292.80 L57.47 289.52 L60.30 287.87 L63.13 289.52ZM68.78 292.80 L65.95 294.45 L63.13 292.80 L63.13 289.52 L65.95 287.87 L68.78 289.52ZM74.44 292.80 L71.61 294.45 L68.78 292.80 L68.78 289.52 L71.61 287.87 L74.44 289.52ZM80.09 292.80 L77.27 294.45 L74.44 292.80 L74.44 289.52 L77.27 287.87 L80.09 289.52ZM85.75 292.80 L82.92 294.45 L80.09 292.80 L80.09 289.52 L82.92 287.87 L85.75 289.52ZM91.40 292.80 L88.58 294.45 L85.75 292.80 L85.75 289.52 L88.58 287.87 L91.40 289.52ZM97.06 292.80 L94.23 294.45 L91.40 292.80 L91.40 289.52 L94.23 287.87 L97.06 289.52ZM102.71 292.80 L99.88 294.45 L97.06 292.80 L97.06 289.52 L99.88 287.87 L102.71 289.52ZM108.37 292.80 L105.54 294.45 L102.71 292.80 L102.71 289.52 L105.54 287.87 L108.37 289.52ZM114.02 292.80 L111.19 294.45 L108.37 292.80 L108.37 289.52 L111.19 287.87 L114.02 289.52ZM119.68 292.80 L116.85 294.45 L114.02 292.80 L114.02 289.52 L116.85 287.87 L119.68 289.52ZM125.33 292.80 L122.50 294.45 L119.68 292.80 L119.68 289.52 L122.50 287.87 L125.33 289.52ZM130.99 292.80 L128.16 294.45 L125.33 292.80 L125.33 289.52 L128.16 287.87 L130.99 289.52ZM136.64 292.80 L133.81 294.45 L130.99 292.80 L130.99 289.52 L133.81 287.87 L136.64 289.52ZM142.30 292.80 L139.47 294.45 L136.64 292.80 L136.64 289.52 L139.47 287.87 L142.30 289.52ZM147.95 292.80 L145.12 294.45 L142.30 292.80 L142.30 289.52 L145.12 287.87 L147.95 289.52ZM153.61 292.80 L150.78 294.45 L147.95 292.80 L147.95 289.52 L150.78 287.87 L153.61 289.52ZM159.26 292.80 L156.44 294.45 L153.61 292.80 L153.61 289.52 L156.44 287.87 L159.26 289.52ZM164.92 292.80 L162.09 294.45 L159.26 292.80 L159.26 289.52 L162.09 287.87 L164.92 289.52ZM170.57 292.80 L167.75 294.45 L164.92 292.80 L164.92 289.52 L167.75 287.87 L170.57 289.52ZM176.23 292.80 L173.40 294.45 L170.57 292.80 L170.57 289.52 L173.40 287.87 L176.23 289.52ZM181.88 292.80 L179.06 294.45 L176.23 292.80 L176.23 289.52 L179.06 287.87 L181.88 289.52ZM187.54 292.80 L184.71 294.45 L181.88 292.80 L181.88 289.52 L184.71 287.87 L187.54 289.52ZM65.96 297.73 L63.13 299.38 L60.30 297.73 L60.30 294.45 L63.13 292.80 L65.96 294.45ZM71.61 297.73 L68.78 299.38 L65.96 297.73 L65.96 294.45 L68.78 292.80 L71.61 294.45ZM77.27 297.73 L74.44 299.38 L71.61 297.73 L71.61 294.45 L74.44 292.80 L77.27 294.45ZM82.92 297.73 L80.09 299.38 L77.27 297.73 L77.27 294.45 L80.09 292.80 L82.92 294.45ZM88.58 297.73 L85.75 299.38 L82.92 297.73 L82.92 294.45 L85.75 292.80 L88.58 294.45ZM94.23 297.73 L91.41 299.38 L88.58 297.73 L88.58 294.45 L91.41 292.80 L94.23 294.45ZM99.89 297.73 L97.06 299.38 L94.23 297.73 L94.23 294.45 L97.06 292.80 L99.89 294.45ZM105.54 297.73 L102.72 299.38 L99.89 297.73 L99.89 294.45 L102.72 292.80 L105.54 294.45ZM111.20 297.73 L108.37 299.38 L105.54 297.73 L105.54 294.45 L108.37 292.80 L111.20 294.45ZM116.85 297.73 L114.03 299.38 L111.20 297.73 L111.20 294.45 L114.03 292.80 L116.85 294.45ZM122.51 297.73 L119.68 299.38 L116.85 297.73 L116.85 294.45 L119.68 292.80 L122.51 294.45ZM128.16 297.73 L125.34 299.38 L122.51 297.73 L122.51 294.45 L125.34 292.80 L128.16 294.45ZM133.82 297.73 L130.99 299.38 L128.16 297.73 L128.16 294.45 L130.99 292.80 L133.82 294.45ZM139.47 297.73 L136.64 299.38 L133.82 297.73 L133.82 294.45 L136.64 292.80 L139.47 294.45ZM145.13 297.73 L142.30 299.38 L139.47 297.73 L139.47 294.45 L142.30 292.80 L145.13 294.45ZM150.78 297.73 L147.95 299.38 L145.13 297.73 L145.13 294.45 L147.95 292.80 L150.78 294.45ZM156.44 297.73 L153.61 299.38 L150.78 297.73 L150.78 294.45 L153.61 292.80 L156.44 294.45ZM162.09 297.73 L159.26 299.38 L156.44 297.73 L156.44 294.45 L159.26 292.80 L162.09 294.45ZM167.75 297.73 L164.92 299.38 L162.09 297.73 L162.09 294.45 L164.92 292.80 L167.75 294.45ZM173.40 297.73 L170.57 299.38 L167.75 297.73 L167.75 294.45 L170.57 292.80 L173.40 294.45ZM179.06 297.73 L176.23 299.38 L173.40 297.73 L173.40 294.45 L176.23 292.80 L179.06 294.45ZM184.71 297.73 L181.88 299.38 L179.06 297.73 L179.06 294.45 L181.88 292.80 L184.71 294.45ZM190.37 297.73 L187.54 299.38 L184.71 297.73 L184.71 294.45 L187.54 292.80 L190.37 294.45ZM63.13 302.66 L60.30 304.31 L57.47 302.66 L57.47 299.38 L60.30 297.73 L63.13 299.38ZM68.78 302.66 L65.95 304.31 L63.13 302.66 L63.13 299.38 L65.95 297.73 L68.78 299.38ZM74.44 302.66 L71.61 304.31 L68.78 302.66 L68.78 299.38 L71.61 297.73 L74.44 299.38ZM80.09 302.66 L77.27 304.31 L74.44 302.66 L74.44 299.38 L77.27 297.73 L80.09 299.38ZM85.75 302.66 L82.92 304.31 L80.09 302.66 L80.09 299.38 L82.92 297.73 L85.75 299.38ZM91.40 302.66 L88.58 304.31 L85.75 302.66 L85.75 299.38 L88.58 297.73 L91.40 299.38ZM97.06 302.66 L94.23 304.31 L91.40 302.66 L91.40 299.38 L94.23 297.73 L97.06 299.38ZM102.71 302.66 L99.88 304.31 L97.06 302.66 L97.06 299.38 L99.88 297.73 L102.71 299.38ZM108.37 302.66 L105.54 304.31 L102.71 302.66 L102.71 299.38 L105.54 297.73 L108.37 299.38ZM114.02 302.66 L111.19 304.31 L108.37 302.66 L108.37 299.38 L111.19 297.73 L114.02 299.38ZM119.68 302.66 L116.85 304.31 L114.02 302.66 L114.02 299.38 L116.85 297.73 L119.68 299.38ZM125.33 302.66 L122.50 304.31 L119.68 302.66 L119.68 299.38 L122.50 297.73 L125.33 299.38ZM130.99 302.66 L128.16 304.31 L125.33 302.66 L125.33 299.38 L128.16 297.73 L130.99 299.38ZM136.64 302.66 L133.81 304.31 L130.99 302.66 L130.99 299.38 L133.81 297.73 L136.64 299.38ZM142.30 302.66 L139.47 304.31 L136.64 302.66 L136.64 299.38 L139.47 297.73 L142.30 299.38ZM147.95 302.66 L145.12 304.31 L142.30 302.66 L142.30 299.38 L145.12 297.73 L147.95 299.38ZM153.61 302.66 L150.78 304.31 L147.95 302.66 L147.95 299.38 L150.78 297.73 L153.61 299.38ZM159.26 302.66 L156.44 304.31 L153.61 302.66 L153.61 299.38 L156.44 297.73 L159.26 299.38ZM164.92 302.66 L162.09 304.31 L159.26 302.66 L159.26 299.38 L162.09 297.73 L164.92 299.38ZM170.57 302.66 L167.75 304.31 L164.92 302.66 L164.92 299.38 L167.75 297.73 L170.57 299.38ZM176.23 302.66 L173.40 304.31 L170.57 302.66 L170.57 299.38 L173.40 297.73 L176.23 299.38ZM181.88 302.66 L179.06 304.31 L176.23 302.66 L176.23 299.38 L179.06 297.73 L181.88 299.38ZM187.54 302.66 L184.71 304.31 L181.88 302.66 L181.88 299.38 L184.71 297.73 L187.54 299.38ZM65.96 307.59 L63.13 309.24 L60.30 307.59 L60.30 304.31 L63.13 302.66 L65.96 304.31ZM71.61 307.59 L68.78 309.24 L65.96 307.59 L65.96 304.31 L68.78 302.66 L71.61 304.31ZM77.27 307.59 L74.44 309.24 L71.61 307.59 L71.61 304.31 L74.44 302.66 L77.27 304.31ZM82.92 307.59 L80.09 309.24 L77.27 307.59 L77.27 304.31 L80.09 302.66 L82.92 304.31ZM88.58 307.59 L85.75 309.24 L82.92 307.59 L82.92 304.31 L85.75 302.66 L88.58 304.31ZM94.23 307.59 L91.41 309.24 L88.58 307.59 L88.58 304.31 L91.41 302.66 L94.23 304.31ZM99.89 307.59 L97.06 309.24 L94.23 307.59 L94.23 304.31 L97.06 302.66 L99.89 304.31ZM105.54 307.59 L102.72 309.24 L99.89 307.59 L99.89 304.31 L102.72 302.66 L105.54 304.31ZM111.20 307.59 L108.37 309.24 L105.54 307.59 L105.54 304.31 L108.37 302.66 L111.20 304.31ZM116.85 307.59 L114.03 309.24 L111.20 307.59 L111.20 304.31 L114.03 302.66 L116.85 304.31ZM122.51 307.59 L119.68 309.24 L116.85 307.59 L116.85 304.31 L119.68 302.66 L122.51 304.31ZM128.16 307.59 L125.34 309.24 L122.51 307.59 L122.51 304.31 L125.34 302.66 L128.16 304.31ZM133.82 307.59 L130.99 309.24 L128.16 307.59 L128.16 304.31 L130.99 302.66 L133.82 304.31ZM139.47 307.59 L136.64 309.24 L133.82 307.59 L133.82 304.31 L136.64 302.66 L139.47 304.31ZM145.13 307.59 L142.30 309.24 L139.47 307.59 L139.47 304.31 L142.30 302.66 L145.13 304.31ZM150.78 307.59 L147.95 309.24 L145.13 307.59 L145.13 304.31 L147.95 302.66 L150.78 304.31ZM156.44 307.59 L153.61 309.24 L150.78 307.59 L150.78 304.31 L153.61 302.66 L156.44 304.31ZM162.09 307.59 L159.26 309.24 L156.44 307.59 L156.44 304.31 L159.26 302.66 L162.09 304.31ZM167.75 307.59 L164.92 309.24 L162.09 307.59 L162.09 304.31 L164.92 302.66 L167.75 304.31ZM173.40 307.59 L170.57 309.24 L167.75 307.59 L167.75 304.31 L170.57 302.66 L173.40 304.31ZM179.06 307.59 L176.23 309.24 L173.40 307.59 L173.40 304.31 L176.23 302.66 L179.06 304.31ZM184.71 307.59 L181.88 309.24 L179.06 307.59 L179.06 304.31 L181.88 302.66 L184.71 304.31ZM190.37 307.59 L187.54 309.24 L184.71 307.59 L184.71 304.31 L187.54 302.66 L190.37 304.31ZM63.13 312.52 L60.30 314.17 L57.47 312.52 L57.47 309.24 L60.30 307.59 L63.13 309.24ZM68.78 312.52 L65.95 314.17 L63.13 312.52 L63.13 309.24 L65.95 307.59 L68.78 309.24ZM74.44 312.52 L71.61 314.17 L68.78 312.52 L68.78 309.24 L71.61 307.59 L74.44 309.24ZM80.09 312.52 L77.27 314.17 L74.44 312.52 L74.44 309.24 L77.27 307.59 L80.09 309.24ZM85.75 312.52 L82.92 314.17 L80.09 312.52 L80.09 309.24 L82.92 307.59 L85.75 309.24ZM91.40 312.52 L88.58 314.17 L85.75 312.52 L85.75 309.24 L88.58 307.59 L91.40 309.24ZM97.06 312.52 L94.23 314.17 L91.40 312.52 L91.40 309.24 L94.23 307.59 L97.06 309.24ZM102.71 312.52 L99.88 314.17 L97.06 312.52 L97.06 309.24 L99.88 307.59 L102.71 309.24ZM108.37 312.52 L105.54 314.17 L102.71 312.52 L102.71 309.24 L105.54 307.59 L108.37 309.24ZM114.02 312.52 L111.19 314.17 L108.37 312.52 L108.37 309.24 L111.19 307.59 L114.02 309.24ZM119.68 312.52 L116.85 314.17 L114.02 312.52 L114.02 309.24 L116.85 307.59 L119.68 309.24ZM125.33 312.52 L122.50 314.17 L119.68 312.52 L119.68 309.24 L122.50 307.59 L125.33 309.24ZM130.99 312.52 L128.16 314.17 L125.33 312.52 L125.33 309.24 L128.16 307.59 L130.99 309.24ZM136.64 312.52 L133.81 314.17 L130.99 312.52 L130.99 309.24 L133.81 307.59 L136.64 309.24ZM142.30 312.52 L139.47 314.17 L136.64 312.52 L136.64 309.24 L139.47 307.59 L142.30 309.24ZM147.95 312.52 L145.12 314.17 L142.30 312.52 L142.30 309.24 L145.12 307.59 L147.95 309.24ZM153.61 312.52 L150.78 314.17 L147.95 312.52 L147.95 309.24 L150.78 307.59 L153.61 309.24ZM159.26 312.52 L156.44 314.17 L153.61 312.52 L153.61 309.24 L156.44 307.59 L159.26 309.24ZM164.92 312.52 L162.09 314.17 L159.26 312.52 L159.26 309.24 L162.09 307.59 L164.92 309.24ZM170.57 312.52 L167.75 314.17 L164.92 312.52 L164.92 309.24 L167.75 307.59 L170.57 309.24ZM176.23 312.52 L173.40 314.17 L170.57 312.52 L170.57 309.24 L173.40 307.59 L176.23 309.24ZM181.88 312.52 L179.06 314.17 L176.23 312.52 L176.23 309.24 L179.06 307.59 L181.88 309.24ZM187.54 312.52 L184.71 314.17 L181.88 312.52 L181.88 309.24 L184.71 307.59 L187.54 309.24ZM65.96 317.45 L63.13 319.10 L60.30 317.45 L60.30 314.17 L63.13 312.52 L65.96 314.17ZM71.61 317.45 L68.78 319.10 L65.96 317.45 L65.96 314.17 L68.78 312.52 L71.61 314.17ZM77.27 317.45 L74.44 319.10 L71.61 317.45 L71.61 314.17 L74.44 312.52 L77.27 314.17ZM82.92 317.45 L80.09 319.10 L77.27 317.45 L77.27 314.17 L80.09 312.52 L82.92 314.17ZM88.58 317.45 L85.75 319.10 L82.92 317.45 L82.92 314.17 L85.75 312.52 L88.58 314.17ZM94.23 317.45 L91.41 319.10 L88.58 317.45 L88.58 314.17 L91.41 312.52 L94.23 314.17ZM99.89 317.45 L97.06 319.10 L94.23 317.45 L94.23 314.17 L97.06 312.52 L99.89 314.17ZM105.54 317.45 L102.72 319.10 L99.89 317.45 L99.89 314.17 L102.72 312.52 L105.54 314.17ZM111.20 317.45 L108.37 319.10 L105.54 317.45 L105.54 314.17 L108.37 312.52 L111.20 314.17ZM116.85 317.45 L114.03 319.10 L111.20 317.45 L111.20 314.17 L114.03 312.52 L116.85 314.17ZM122.51 317.45 L119.68 319.10 L116.85 317.45 L116.85 314.17 L119.68 312.52 L122.51 314.17ZM128.16 317.45 L125.34 319.10 L122.51 317.45 L122.51 314.17 L125.34 312.52 L128.16 314.17ZM133.82 317.45 L130.99 319.10 L128.16 317.45 L128.16 314.17 L130.99 312.52 L133.82 314.17ZM139.47 317.45 L136.64 319.10 L133.82 317.45 L133.82 314.17 L136.64 312.52 L139.47 314.17ZM145.13 317.45 L142.30 319.10 L139.47 317.45 L139.47 314.17 L142.30 312.52 L145.13 314.17ZM150.78 317.45 L147.95 319.10 L145.13 317.45 L145.13 314.17 L147.95 312.52 L150.78 314.17ZM156.44 317.45 L153.61 319.10 L150.78 317.45 L150.78 314.17 L153.61 312.52 L156.44 314.17ZM162.09 317.45 L159.26 319.10 L156.44 317.45 L156.44 314.17 L159.26 312.52 L162.09 314.17ZM167.75 317.45 L164.92 319.10 L162.09 317.45 L162.09 314.17 L164.92 312.52 L167.75 314.17ZM173.40 317.45 L170.57 319.10 L167.75 317.45 L167.75 314.17 L170.57 312.52 L173.40 314.17ZM179.06 317.45 L176.23 319.10 L173.40 317.45 L173.40 314.17 L176.23 312.52 L179.06 314.17ZM184.71 317.45 L181.88 319.10 L179.06 317.45 L179.06 314.17 L181.88 312.52 L184.71 314.17ZM190.37 317.45 L187.54 319.10 L184.71 317.45 L184.71 314.17 L187.54 312.52 L190.37 314.17ZM63.13 322.38 L60.30 324.03 L57.47 322.38 L57.47 319.10 L60.30 317.45 L63.13 319.10ZM68.78 322.38 L65.95 324.03 L63.13 322.38 L63.13 319.10 L65.95 317.45 L68.78 319.10ZM74.44 322.38 L71.61 324.03 L68.78 322.38 L68.78 319.10 L71.61 317.45 L74.44 319.10ZM80.09 322.38 L77.27 324.03 L74.44 322.38 L74.44 319.10 L77.27 317.45 L80.09 319.10ZM85.75 322.38 L82.92 324.03 L80.09 322.38 L80.09 319.10 L82.92 317.45 L85.75 319.10ZM91.40 322.38 L88.58 324.03 L85.75 322.38 L85.75 319.10 L88.58 317.45 L91.40 319.10ZM97.06 322.38 L94.23 324.03 L91.40 322.38 L91.40 319.10 L94.23 317.45 L97.06 319.10ZM102.71 322.38 L99.88 324.03 L97.06 322.38 L97.06 319.10 L99.88 317.45 L102.71 319.10ZM108.37 322.38 L105.54 324.03 L102.71 322.38 L102.71 319.10 L105.54 317.45 L108.37 319.10ZM114.02 322.38 L111.19 324.03 L108.37 322.38 L108.37 319.10 L111.19 317.45 L114.02 319.10ZM119.68 322.38 L116.85 324.03 L114.02 322.38 L114.02 319.10 L116.85 317.45 L119.68 319.10ZM125.33 322.38 L122.50 324.03 L119.68 322.38 L119.68 319.10 L122.50 317.45 L125.33 319.10ZM130.99 322.38 L128.16 324.03 L125.33 322.38 L125.33 319.10 L128.16 317.45 L130.99 319.10ZM136.64 322.38 L133.81 324.03 L130.99 322.38 L130.99 319.10 L133.81 317.45 L136.64 319.10ZM142.30 322.38 L139.47 324.03 L136.64 322.38 L136.64 319.10 L139.47 317.45 L142.30 319.10ZM147.95 322.38 L145.12 324.03 L142.30 322.38 L142.30 319.10 L145.12 317.45 L147.95 319.10ZM153.61 322.38 L150.78 324.03 L147.95 322.38 L147.95 319.10 L150.78 317.45 L153.61 319.10ZM159.26 322.38 L156.44 324.03 L153.61 322.38 L153.61 319.10 L156.44 317.45 L159.26 319.10ZM164.92 322.38 L162.09 324.03 L159.26 322.38 L159.26 319.10 L162.09 317.45 L164.92 319.10ZM170.57 322.38 L167.75 324.03 L164.92 322.38 L164.92 319.10 L167.75 317.45 L170.57 319.10ZM176.23 322.38 L173.40 324.03 L170.57 322.38 L170.57 319.10 L173.40 317.45 L176.23 319.10ZM181.88 322.38 L179.06 324.03 L176.23 322.38 L176.23 319.10 L179.06 317.45 L181.88 319.10ZM187.54 322.38 L184.71 324.03 L181.88 322.38 L181.88 319.10 L184.71 317.45 L187.54 319.10ZM65.96 327.31 L63.13 328.96 L60.30 327.31 L60.30 324.03 L63.13 322.38 L65.96 324.03ZM71.61 327.31 L68.78 328.96 L65.96 327.31 L65.96 324.03 L68.78 322.38 L71.61 324.03ZM77.27 327.31 L74.44 328.96 L71.61 327.31 L71.61 324.03 L74.44 322.38 L77.27 324.03ZM82.92 327.31 L80.09 328.96 L77.27 327.31 L77.27 324.03 L80.09 322.38 L82.92 324.03ZM88.58 327.31 L85.75 328.96 L82.92 327.31 L82.92 324.03 L85.75 322.38 L88.58 324.03ZM94.23 327.31 L91.41 328.96 L88.58 327.31 L88.58 324.03 L91.41 322.38 L94.23 324.03ZM99.89 327.31 L97.06 328.96 L94.23 327.31 L94.23 324.03 L97.06 322.38 L99.89 324.03ZM105.54 327.31 L102.72 328.96 L99.89 327.31 L99.89 324.03 L102.72 322.38 L105.54 324.03ZM111.20 327.31 L108.37 328.96 L105.54 327.31 L105.54 324.03 L108.37 322.38 L111.20 324.03ZM116.85 327.31 L114.03 328.96 L111.20 327.31 L111.20 324.03 L114.03 322.38 L116.85 324.03ZM122.51 327.31 L119.68 328.96 L116.85 327.31 L116.85 324.03 L119.68 322.38 L122.51 324.03ZM128.16 327.31 L125.34 328.96 L122.51 327.31 L122.51 324.03 L125.34 322.38 L128.16 324.03ZM133.82 327.31 L130.99 328.96 L128.16 327.31 L128.16 324.03 L130.99 322.38 L133.82 324.03ZM139.47 327.31 L136.64 328.96 L133.82 327.31 L133.82 324.03 L136.64 322.38 L139.47 324.03ZM145.13 327.31 L142.30 328.96 L139.47 327.31 L139.47 324.03 L142.30 322.38 L145.13 324.03ZM150.78 327.31 L147.95 328.96 L145.13 327.31 L145.13 324.03 L147.95 322.38 L150.78 324.03ZM156.44 327.31 L153.61 328.96 L150.78 327.31 L150.78 324.03 L153.61 322.38 L156.44 324.03ZM162.09 327.31 L159.26 328.96 L156.44 327.31 L156.44 324.03 L159.26 322.38 L162.09 324.03ZM167.75 327.31 L164.92 328.96 L162.09 327.31 L162.09 324.03 L164.92 322.38 L167.75 324.03ZM173.40 327.31 L170.57 328.96 L167.75 327.31 L167.75 324.03 L170.57 322.38 L173.40 324.03ZM179.06 327.31 L176.23 328.96 L173.40 327.31 L173.40 324.03 L176.23 322.38 L179.06 324.03ZM184.71 327.31 L181.88 328.96 L179.06 327.31 L179.06 324.03 L181.88 322.38 L184.71 324.03ZM190.37 327.31 L187.54 328.96 L184.71 327.31 L184.71 324.03 L187.54 322.38 L190.37 324.03ZM63.13 332.24 L60.30 333.89 L57.47 332.24 L57.47 328.96 L60.30 327.31 L63.13 328.96ZM68.78 332.24 L65.95 333.89 L63.13 332.24 L63.13 328.96 L65.95 327.31 L68.78 328.96ZM74.44 332.24 L71.61 333.89 L68.78 332.24 L68.78 328.96 L71.61 327.31 L74.44 328.96ZM80.09 332.24 L77.27 333.89 L74.44 332.24 L74.44 328.96 L77.27 327.31 L80.09 328.96ZM85.75 332.24 L82.92 333.89 L80.09 332.24 L80.09 328.96 L82.92 327.31 L85.75 328.96ZM91.40 332.24 L88.58 333.89 L85.75 332.24 L85.75 328.96 L88.58 327.31 L91.40 328.96ZM97.06 332.24 L94.23 333.89 L91.40 332.24 L91.40 328.96 L94.23 327.31 L97.06 328.96ZM102.71 332.24 L99.88 333.89 L97.06 332.24 L97.06 328.96 L99.88 327.31 L102.71 328.96ZM108.37 332.24 L105.54 333.89 L102.71 332.24 L102.71 328.96 L105.54 327.31 L108.37 328.96ZM114.02 332.24 L111.19 333.89 L108.37 332.24 L108.37 328.96 L111.19 327.31 L114.02 328.96ZM119.68 332.24 L116.85 333.89 L114.02 332.24 L114.02 328.96 L116.85 327.31 L119.68 328.96ZM125.33 332.24 L122.50 333.89 L119.68 332.24 L119.68 328.96 L122.50 327.31 L125.33 328.96ZM130.99 332.24 L128.16 333.89 L125.33 332.24 L125.33 328.96 L128.16 327.31 L130.99 328.96ZM136.64 332.24 L133.81 333.89 L130.99 332.24 L130.99 328.96 L133.81 327.31 L136.64 328.96ZM142.30 332.24 L139.47 333.89 L136.64 332.24 L136.64 328.96 L139.47 327.31 L142.30 328.96ZM147.95 332.24 L145.12 333.89 L142.30 332.24 L142.30 328.96 L145.12 327.31 L147.95 328.96ZM153.61 332.24 L150.78 333.89 L147.95 332.24 L147.95 328.96 L150.78 327.31 L153.61 328.96ZM159.26 332.24 L156.44 333.89 L153.61 332.24 L153.61 328.96 L156.44 327.31 L159.26 328.96ZM164.92 332.24 L162.09 333.89 L159.26 332.24 L159.26 328.96 L162.09 327.31 L164.92 328.96ZM170.57 332.24 L167.75 333.89 L164.92 332.24 L164.92 328.96 L167.75 327.31 L170.57 328.96ZM176.23 332.24 L173.40 333.89 L170.57 332.24 L170.57 328.96 L173.40 327.31 L176.23 328.96ZM181.88 332.24 L179.06 333.89 L176.23 332.24 L176.23 328.96 L179.06 327.31 L181.88 328.96ZM187.54 332.24 L184.71 333.89 L181.88 332.24 L181.88 328.96 L184.71 327.31 L187.54 328.96ZM65.96 337.17 L63.13 338.82 L60.30 337.17 L60.30 333.89 L63.13 332.24 L65.96 333.89ZM71.61 337.17 L68.78 338.82 L65.96 337.17 L65.96 333.89 L68.78 332.24 L71.61 333.89ZM77.27 337.17 L74.44 338.82 L71.61 337.17 L71.61 333.89 L74.44 332.24 L77.27 333.89ZM82.92 337.17 L80.09 338.82 L77.27 337.17 L77.27 333.89 L80.09 332.24 L82.92 333.89ZM88.58 337.17 L85.75 338.82 L82.92 337.17 L82.92 333.89 L85.75 332.24 L88.58 333.89ZM94.23 337.17 L91.41 338.82 L88.58 337.17 L88.58 333.89 L91.41 332.24 L94.23 333.89ZM99.89 337.17 L97.06 338.82 L94.23 337.17 L94.23 333.89 L97.06 332.24 L99.89 333.89ZM105.54 337.17 L102.72 338.82 L99.89 337.17 L99.89 333.89 L102.72 332.24 L105.54 333.89ZM111.20 337.17 L108.37 338.82 L105.54 337.17 L105.54 333.89 L108.37 332.24 L111.20 333.89ZM116.85 337.17 L114.03 338.82 L111.20 337.17 L111.20 333.89 L114.03 332.24 L116.85 333.89ZM122.51 337.17 L119.68 338.82 L116.85 337.17 L116.85 333.89 L119.68 332.24 L122.51 333.89ZM128.16 337.17 L125.34 338.82 L122.51 337.17 L122.51 333.89 L125.34 332.24 L128.16 333.89ZM133.82 337.17 L130.99 338.82 L128.16 337.17 L128.16 333.89 L130.99 332.24 L133.82 333.89ZM139.47 337.17 L136.64 338.82 L133.82 337.17 L133.82 333.89 L136.64 332.24 L139.47 333.89ZM145.13 337.17 L142.30 338.82 L139.47 337.17 L139.47 333.89 L142.30 332.24 L145.13 333.89ZM150.78 337.17 L147.95 338.82 L145.13 337.17 L145.13 333.89 L147.95 332.24 L150.78 333.89ZM156.44 337.17 L153.61 338.82 L150.78 337.17 L150.78 333.89 L153.61 332.24 L156.44 333.89ZM162.09 337.17 L159.26 338.82 L156.44 337.17 L156.44 333.89 L159.26 332.24 L162.09 333.89ZM167.75 337.17 L164.92 338.82 L162.09 337.17 L162.09 333.89 L164.92 332.24 L167.75 333.89ZM173.40 337.17 L170.57 338.82 L167.75 337.17 L167.75 333.89 L170.57 332.24 L173.40 333.89ZM179.06 337.17 L176.23 338.82 L173.40 337.17 L173.40 333.89 L176.23 332.24 L179.06 333.89ZM184.71 337.17 L181.88 338.82 L179.06 337.17 L179.06 333.89 L181.88 332.24 L184.71 333.89ZM190.37 337.17 L187.54 338.82 L184.71 337.17 L184.71 333.89 L187.54 332.24 L190.37 333.89ZM63.13 342.10 L60.30 343.75 L57.47 342.10 L57.47 338.82 L60.30 337.17 L63.13 338.82ZM68.78 342.10 L65.95 343.75 L63.13 342.10 L63.13 338.82 L65.95 337.17 L68.78 338.82ZM74.44 342.10 L71.61 343.75 L68.78 342.10 L68.78 338.82 L71.61 337.17 L74.44 338.82ZM80.09 342.10 L77.27 343.75 L74.44 342.10 L74.44 338.82 L77.27 337.17 L80.09 338.82ZM85.75 342.10 L82.92 343.75 L80.09 342.10 L80.09 338.82 L82.92 337.17 L85.75 338.82ZM91.40 342.10 L88.58 343.75 L85.75 342.10 L85.75 338.82 L88.58 337.17 L91.40 338.82ZM97.06 342.10 L94.23 343.75 L91.40 342.10 L91.40 338.82 L94.23 337.17 L97.06 338.82ZM102.71 342.10 L99.88 343.75 L97.06 342.10 L97.06 338.82 L99.88 337.17 L102.71 338.82ZM108.37 342.10 L105.54 343.75 L102.71 342.10 L102.71 338.82 L105.54 337.17 L108.37 338.82ZM114.02 342.10 L111.19 343.75 L108.37 342.10 L108.37 338.82 L111.19 337.17 L114.02 338.82ZM119.68 342.10 L116.85 343.75 L114.02 342.10 L114.02 338.82 L116.85 337.17 L119.68 338.82ZM125.33 342.10 L122.50 343.75 L119.68 342.10 L119.68 338.82 L122.50 337.17 L125.33 338.82ZM130.99 342.10 L128.16 343.75 L125.33 342.10 L125.33 338.82 L128.16 337.17 L130.99 338.82ZM136.64 342.10 L133.81 343.75 L130.99 342.10 L130.99 338.82 L133.81 337.17 L136.64 338.82ZM142.30 342.10 L139.47 343.75 L136.64 342.10 L136.64 338.82 L139.47 337.17 L142.30 338.82ZM147.95 342.10 L145.12 343.75 L142.30 342.10 L142.30 338.82 L145.12 337.17 L147.95 338.82ZM153.61 342.10 L150.78 343.75 L147.95 342.10 L147.95 338.82 L150.78 337.17 L153.61 338.82ZM159.26 342.10 L156.44 343.75 L153.61 342.10 L153.61 338.82 L156.44 337.17 L159.26 338.82ZM164.92 342.10 L162.09 343.75 L159.26 342.10 L159.26 338.82 L162.09 337.17 L164.92 338.82ZM170.57 342.10 L167.75 343.75 L164.92 342.10 L164.92 338.82 L167.75 337.17 L170.57 338.82ZM176.23 342.10 L173.40 343.75 L170.57 342.10 L170.57 338.82 L173.40 337.17 L176.23 338.82ZM181.88 342.10 L179.06 343.75 L176.23 342.10 L176.23 338.82 L179.06 337.17 L181.88 338.82ZM187.54 342.10 L184.71 343.75 L181.88 342.10 L181.88 338.82 L184.71 337.17 L187.54 338.82ZM65.96 347.03 L63.13 348.68 L60.30 347.03 L60.30 343.75 L63.13 342.10 L65.96 343.75ZM71.61 347.03 L68.78 348.68 L65.96 347.03 L65.96 343.75 L68.78 342.10 L71.61 343.75ZM77.27 347.03 L74.44 348.68 L71.61 347.03 L71.61 343.75 L74.44 342.10 L77.27 343.75ZM82.92 347.03 L80.09 348.68 L77.27 347.03 L77.27 343.75 L80.09 342.10 L82.92 343.75ZM88.58 347.03 L85.75 348.68 L82.92 347.03 L82.92 343.75 L85.75 342.10 L88.58 343.75ZM94.23 347.03 L91.41 348.68 L88.58 347.03 L88.58 343.75 L91.41 342.10 L94.23 343.75ZM99.89 347.03 L97.06 348.68 L94.23 347.03 L94.23 343.75 L97.06 342.10 L99.89 343.75ZM105.54 347.03 L102.72 348.68 L99.89 347.03 L99.89 343.75 L102.72 342.10 L105.54 343.75ZM111.20 347.03 L108.37 348.68 L105.54 347.03 L105.54 343.75 L108.37 342.10 L111.20 343.75ZM116.85 347.03 L114.03 348.68 L111.20 347.03 L111.20 343.75 L114.03 342.10 L116.85 343.75ZM122.51 347.03 L119.68 348.68 L116.85 347.03 L116.85 343.75 L119.68 342.10 L122.51 343.75ZM128.16 347.03 L125.34 348.68 L122.51 347.03 L122.51 343.75 L125.34 342.10 L128.16 343.75ZM133.82 347.03 L130.99 348.68 L128.16 347.03 L128.16 343.75 L130.99 342.10 L133.82 343.75ZM139.47 347.03 L136.64 348.68 L133.82 347.03 L133.82 343.75 L136.64 342.10 L139.47 343.75ZM145.13 347.03 L142.30 348.68 L139.47 347.03 L139.47 343.75 L142.30 342.10 L145.13 343.75ZM150.78 347.03 L147.95 348.68 L145.13 347.03 L145.13 343.75 L147.95 342.10 L150.78 343.75ZM156.44 347.03 L153.61 348.68 L150.78 347.03 L150.78 343.75 L153.61 342.10 L156.44 343.75ZM162.09 347.03 L159.26 348.68 L156.44 347.03 L156.44 343.75 L159.26 342.10 L162.09 343.75ZM167.75 347.03 L164.92 348.68 L162.09 347.03 L162.09 343.75 L164.92 342.10 L167.75 343.75ZM173.40 347.03 L170.57 348.68 L167.75 347.03 L167.75 343.75 L170.57 342.10 L173.40 343.75ZM179.06 347.03 L176.23 348.68 L173.40 347.03 L173.40 343.75 L176.23 342.10 L179.06 343.75ZM184.71 347.03 L181.88 348.68 L179.06 347.03 L179.06 343.75 L181.88 342.10 L184.71 343.75ZM190.37 347.03 L187.54 348.68 L184.71 347.03 L184.71 343.75 L187.54 342.10 L190.37 343.75ZM63.13 351.96 L60.30 353.61 L57.47 351.96 L57.47 348.68 L60.30 347.03 L63.13 348.68ZM68.78 351.96 L65.95 353.61 L63.13 351.96 L63.13 348.68 L65.95 347.03 L68.78 348.68ZM74.44 351.96 L71.61 353.61 L68.78 351.96 L68.78 348.68 L71.61 347.03 L74.44 348.68ZM80.09 351.96 L77.27 353.61 L74.44 351.96 L74.44 348.68 L77.27 347.03 L80.09 348.68ZM85.75 351.96 L82.92 353.61 L80.09 351.96 L80.09 348.68 L82.92 347.03 L85.75 348.68ZM91.40 351.96 L88.58 353.61 L85.75 351.96 L85.75 348.68 L88.58 347.03 L91.40 348.68ZM97.06 351.96 L94.23 353.61 L91.40 351.96 L91.40 348.68 L94.23 347.03 L97.06 348.68ZM102.71 351.96 L99.88 353.61 L97.06 351.96 L97.06 348.68 L99.88 347.03 L102.71 348.68ZM108.37 351.96 L105.54 353.61 L102.71 351.96 L102.71 348.68 L105.54 347.03 L108.37 348.68ZM114.02 351.96 L111.19 353.61 L108.37 351.96 L108.37 348.68 L111.19 347.03 L114.02 348.68ZM119.68 351.96 L116.85 353.61 L114.02 351.96 L114.02 348.68 L116.85 347.03 L119.68 348.68ZM125.33 351.96 L122.50 353.61 L119.68 351.96 L119.68 348.68 L122.50 347.03 L125.33 348.68ZM130.99 351.96 L128.16 353.61 L125.33 351.96 L125.33 348.68 L128.16 347.03 L130.99 348.68ZM136.64 351.96 L133.81 353.61 L130.99 351.96 L130.99 348.68 L133.81 347.03 L136.64 348.68ZM142.30 351.96 L139.47 353.61 L136.64 351.96 L136.64 348.68 L139.47 347.03 L142.30 348.68ZM147.95 351.96 L145.12 353.61 L142.30 351.96 L142.30 348.68 L145.12 347.03 L147.95 348.68ZM153.61 351.96 L150.78 353.61 L147.95 351.96 L147.95 348.68 L150.78 347.03 L153.61 348.68ZM159.26 351.96 L156.44 353.61 L153.61 351.96 L153.61 348.68 L156.44 347.03 L159.26 348.68ZM164.92 351.96 L162.09 353.61 L159.26 351.96 L159.26 348.68 L162.09 347.03 L164.92 348.68ZM170.57 351.96 L167.75 353.61 L164.92 351.96 L164.92 348.68 L167.75 347.03 L170.57 348.68ZM176.23 351.96 L173.40 353.61 L170.57 351.96 L170.57 348.68 L173.40 347.03 L176.23 348.68ZM181.88 351.96 L179.06 353.61 L176.23 351.96 L176.23 348.68 L179.06 347.03 L181.88 348.68ZM187.54 351.96 L184.71 353.61 L181.88 351.96 L181.88 348.68 L184.71 347.03 L187.54 348.68ZM65.96 356.89 L63.13 358.54 L60.30 356.89 L60.30 353.61 L63.13 351.96 L65.96 353.61ZM71.61 356.89 L68.78 358.54 L65.96 356.89 L65.96 353.61 L68.78 351.96 L71.61 353.61ZM77.27 356.89 L74.44 358.54 L71.61 356.89 L71.61 353.61 L74.44 351.96 L77.27 353.61ZM82.92 356.89 L80.09 358.54 L77.27 356.89 L77.27 353.61 L80.09 351.96 L82.92 353.61ZM88.58 356.89 L85.75 358.54 L82.92 356.89 L82.92 353.61 L85.75 351.96 L88.58 353.61ZM94.23 356.89 L91.41 358.54 L88.58 356.89 L88.58 353.61 L91.41 351.96 L94.23 353.61ZM99.89 356.89 L97.06 358.54 L94.23 356.89 L94.23 353.61 L97.06 351.96 L99.89 353.61ZM105.54 356.89 L102.72 358.54 L99.89 356.89 L99.89 353.61 L102.72 351.96 L105.54 353.61ZM111.20 356.89 L108.37 358.54 L105.54 356.89 L105.54 353.61 L108.37 351.96 L111.20 353.61ZM116.85 356.89 L114.03 358.54 L111.20 356.89 L111.20 353.61 L114.03 351.96 L116.85 353.61ZM122.51 356.89 L119.68 358.54 L116.85 356.89 L116.85 353.61 L119.68 351.96 L122.51 353.61ZM128.16 356.89 L125.34 358.54 L122.51 356.89 L122.51 353.61 L125.34 351.96 L128.16 353.61ZM133.82 356.89 L130.99 358.54 L128.16 356.89 L128.16 353.61 L130.99 351.96 L133.82 353.61ZM139.47 356.89 L136.64 358.54 L133.82 356.89 L133.82 353.61 L136.64 351.96 L139.47 353.61ZM145.13 356.89 L142.30 358.54 L139.47 356.89 L139.47 353.61 L142.30 351.96 L145.13 353.61ZM150.78 356.89 L147.95 358.54 L145.13 356.89 L145.13 353.61 L147.95 351.96 L150.78 353.61ZM156.44 356.89 L153.61 358.54 L150.78 356.89 L150.78 353.61 L153.61 351.96 L156.44 353.61ZM162.09 356.89 L159.26 358.54 L156.44 356.89 L156.44 353.61 L159.26 351.96 L162.09 353.61ZM167.75 356.89 L164.92 358.54 L162.09 356.89 L162.09 353.61 L164.92 351.96 L167.75 353.61ZM173.40 356.89 L170.57 358.54 L167.75 356.89 L167.75 353.61 L170.57 351.96 L173.40 353.61ZM179.06 356.89 L176.23 358.54 L173.40 356.89 L173.40 353.61 L176.23 351.96 L179.06 353.61ZM184.71 356.89 L181.88 358.54 L179.06 356.89 L179.06 353.61 L181.88 351.96 L184.71 353.61ZM190.37 356.89 L187.54 358.54 L184.71 356.89 L184.71 353.61 L187.54 351.96 L190.37 353.61ZM63.13 361.82 L60.30 363.47 L57.47 361.82 L57.47 358.54 L60.30 356.89 L63.13 358.54ZM68.78 361.82 L65.95 363.47 L63.13 361.82 L63.13 358.54 L65.95 356.89 L68.78 358.54ZM74.44 361.82 L71.61 363.47 L68.78 361.82 L68.78 358.54 L71.61 356.89 L74.44 358.54ZM80.09 361.82 L77.27 363.47 L74.44 361.82 L74.44 358.54 L77.27 356.89 L80.09 358.54ZM85.75 361.82 L82.92 363.47 L80.09 361.82 L80.09 358.54 L82.92 356.89 L85.75 358.54ZM91.40 361.82 L88.58 363.47 L85.75 361.82 L85.75 358.54 L88.58 356.89 L91.40 358.54ZM97.06 361.82 L94.23 363.47 L91.40 361.82 L91.40 358.54 L94.23 356.89 L97.06 358.54ZM102.71 361.82 L99.88 363.47 L97.06 361.82 L97.06 358.54 L99.88 356.89 L102.71 358.54ZM108.37 361.82 L105.54 363.47 L102.71 361.82 L102.71 358.54 L105.54 356.89 L108.37 358.54ZM114.02 361.82 L111.19 363.47 L108.37 361.82 L108.37 358.54 L111.19 356.89 L114.02 358.54ZM119.68 361.82 L116.85 363.47 L114.02 361.82 L114.02 358.54 L116.85 356.89 L119.68 358.54ZM125.33 361.82 L122.50 363.47 L119.68 361.82 L119.68 358.54 L122.50 356.89 L125.33 358.54ZM130.99 361.82 L128.16 363.47 L125.33 361.82 L125.33 358.54 L128.16 356.89 L130.99 358.54ZM136.64 361.82 L133.81 363.47 L130.99 361.82 L130.99 358.54 L133.81 356.89 L136.64 358.54ZM142.30 361.82 L139.47 363.47 L136.64 361.82 L136.64 358.54 L139.47 356.89 L142.30 358.54ZM147.95 361.82 L145.12 363.47 L142.30 361.82 L142.30 358.54 L145.12 356.89 L147.95 358.54ZM153.61 361.82 L150.78 363.47 L147.95 361.82 L147.95 358.54 L150.78 356.89 L153.61 358.54ZM159.26 361.82 L156.44 363.47 L153.61 361.82 L153.61 358.54 L156.44 356.89 L159.26 358.54ZM164.92 361.82 L162.09 363.47 L159.26 361.82 L159.26 358.54 L162.09 356.89 L164.92 358.54ZM170.57 361.82 L167.75 363.47 L164.92 361.82 L164.92 358.54 L167.75 356.89 L170.57 358.54ZM176.23 361.82 L173.40 363.47 L170.57 361.82 L170.57 358.54 L173.40 356.89 L176.23 358.54ZM181.88 361.82 L179.06 363.47 L176.23 361.82 L176.23 358.54 L179.06 356.89 L181.88 358.54ZM187.54 361.82 L184.71 363.47 L181.88 361.82 L181.88 358.54 L184.71 356.89 L187.54 358.54ZM65.96 366.75 L63.13 368.40 L60.30 366.75 L60.30 363.47 L63.13 361.82 L65.96 363.47ZM71.61 366.75 L68.78 368.40 L65.96 366.75 L65.96 363.47 L68.78 361.82 L71.61 363.47ZM77.27 366.75 L74.44 368.40 L71.61 366.75 L71.61 363.47 L74.44 361.82 L77.27 363.47ZM82.92 366.75 L80.09 368.40 L77.27 366.75 L77.27 363.47 L80.09 361.82 L82.92 363.47ZM88.58 366.75 L85.75 368.40 L82.92 366.75 L82.92 363.47 L85.75 361.82 L88.58 363.47ZM94.23 366.75 L91.41 368.40 L88.58 366.75 L88.58 363.47 L91.41 361.82 L94.23 363.47ZM99.89 366.75 L97.06 368.40 L94.23 366.75 L94.23 363.47 L97.06 361.82 L99.89 363.47ZM105.54 366.75 L102.72 368.40 L99.89 366.75 L99.89 363.47 L102.72 361.82 L105.54 363.47ZM111.20 366.75 L108.37 368.40 L105.54 366.75 L105.54 363.47 L108.37 361.82 L111.20 363.47ZM116.85 366.75 L114.03 368.40 L111.20 366.75 L111.20 363.47 L114.03 361.82 L116.85 363.47ZM122.51 366.75 L119.68 368.40 L116.85 366.75 L116.85 363.47 L119.68 361.82 L122.51 363.47ZM128.16 366.75 L125.34 368.40 L122.51 366.75 L122.51 363.47 L125.34 361.82 L128.16 363.47ZM133.82 366.75 L130.99 368.40 L128.16 366.75 L128.16 363.47 L130.99 361.82 L133.82 363.47ZM139.47 366.75 L136.64 368.40 L133.82 366.75 L133.82 363.47 L136.64 361.82 L139.47 363.47ZM145.13 366.75 L142.30 368.40 L139.47 366.75 L139.47 363.47 L142.30 361.82 L145.13 363.47ZM150.78 366.75 L147.95 368.40 L145.13 366.75 L145.13 363.47 L147.95 361.82 L150.78 363.47ZM156.44 366.75 L153.61 368.40 L150.78 366.75 L150.78 363.47 L153.61 361.82 L156.44 363.47ZM162.09 366.75 L159.26 368.40 L156.44 366.75 L156.44 363.47 L159.26 361.82 L162.09 363.47ZM167.75 366.75 L164.92 368.40 L162.09 366.75 L162.09 363.47 L164.92 361.82 L167.75 363.47ZM173.40 366.75 L170.57 368.40 L167.75 366.75 L167.75 363.47 L170.57 361.82 L173.40 363.47ZM179.06 366.75 L176.23 368.40 L173.40 366.75 L173.40 363.47 L176.23 361.82 L179.06 363.47ZM184.71 366.75 L181.88 368.40 L179.06 366.75 L179.06 363.47 L181.88 361.82 L184.71 363.47ZM190.37 366.75 L187.54 368.40 L184.71 366.75 L184.71 363.47 L187.54 361.82 L190.37 363.47ZM63.13 371.68 L60.30 373.33 L57.47 371.68 L57.47 368.40 L60.30 366.75 L63.13 368.40ZM68.78 371.68 L65.95 373.33 L63.13 371.68 L63.13 368.40 L65.95 366.75 L68.78 368.40ZM74.44 371.68 L71.61 373.33 L68.78 371.68 L68.78 368.40 L71.61 366.75 L74.44 368.40ZM80.09 371.68 L77.27 373.33 L74.44 371.68 L74.44 368.40 L77.27 366.75 L80.09 368.40ZM85.75 371.68 L82.92 373.33 L80.09 371.68 L80.09 368.40 L82.92 366.75 L85.75 368.40ZM91.40 371.68 L88.58 373.33 L85.75 371.68 L85.75 368.40 L88.58 366.75 L91.40 368.40ZM97.06 371.68 L94.23 373.33 L91.40 371.68 L91.40 368.40 L94.23 366.75 L97.06 368.40ZM102.71 371.68 L99.88 373.33 L97.06 371.68 L97.06 368.40 L99.88 366.75 L102.71 368.40ZM108.37 371.68 L105.54 373.33 L102.71 371.68 L102.71 368.40 L105.54 366.75 L108.37 368.40ZM114.02 371.68 L111.19 373.33 L108.37 371.68 L108.37 368.40 L111.19 366.75 L114.02 368.40ZM119.68 371.68 L116.85 373.33 L114.02 371.68 L114.02 368.40 L116.85 366.75 L119.68 368.40ZM125.33 371.68 L122.50 373.33 L119.68 371.68 L119.68 368.40 L122.50 366.75 L125.33 368.40ZM130.99 371.68 L128.16 373.33 L125.33 371.68 L125.33 368.40 L128.16 366.75 L130.99 368.40ZM136.64 371.68 L133.81 373.33 L130.99 371.68 L130.99 368.40 L133.81 366.75 L136.64 368.40ZM142.30 371.68 L139.47 373.33 L136.64 371.68 L136.64 368.40 L139.47 366.75 L142.30 368.40ZM147.95 371.68 L145.12 373.33 L142.30 371.68 L142.30 368.40 L145.12 366.75 L147.95 368.40ZM153.61 371.68 L150.78 373.33 L147.95 371.68 L147.95 368.40 L150.78 366.75 L153.61 368.40ZM159.26 371.68 L156.44 373.33 L153.61 371.68 L153.61 368.40 L156.44 366.75 L159.26 368.40ZM164.92 371.68 L162.09 373.33 L159.26 371.68 L159.26 368.40 L162.09 366.75 L164.92 368.40ZM170.57 371.68 L167.75 373.33 L164.92 371.68 L164.92 368.40 L167.75 366.75 L170.57 368.40ZM176.23 371.68 L173.40 373.33 L170.57 371.68 L170.57 368.40 L173.40 366.75 L176.23 368.40ZM181.88 371.68 L179.06 373.33 L176.23 371.68 L176.23 368.40 L179.06 366.75 L181.88 368.40ZM187.54 371.68 L184.71 373.33 L181.88 371.68 L181.88 368.40 L184.71 366.75 L187.54 368.40Z" fill="none" stroke="#e61c26" stroke-width="1.90" stroke-linejoin="round"/>
</g>
<rect x="269.5" y="19.5" width="234.0" height="172.0" fill="none" stroke="#8a8a8a" stroke-width="1"/>
<path d="M269.5 191.5V196.5M278.9 191.5V194.0M288.2 191.5V194.0M297.6 191.5V194.0M306.9 191.5V194.0M316.3 191.5V196.5M325.7 191.5V194.0M335.0 191.5V194.0M344.4 191.5V194.0M353.7 191.5V194.0M363.1 191.5V196.5M372.5 191.5V194.0M381.8 191.5V194.0M391.2 191.5V194.0M400.5 191.5V194.0M409.9 191.5V196.5M419.3 191.5V194.0M428.6 191.5V194.0M438.0 191.5V194.0M447.3 191.5V194.0M456.7 191.5V196.5M466.1 191.5V194.0M475.4 191.5V194.0M484.8 191.5V194.0M494.1 191.5V194.0M503.5 191.5V196.5" stroke="#8a8a8a" stroke-width="1"/><text x="269.5" y="207.3" font-size="11" fill="#333" stroke="#333" stroke-width="0.25" text-anchor="middle" textLength="31" lengthAdjust="spacingAndGlyphs">2,550</text><text x="316.3" y="207.3" font-size="11" fill="#333" stroke="#333" stroke-width="0.25" text-anchor="middle" textLength="31" lengthAdjust="spacingAndGlyphs">2,600</text><text x="363.1" y="207.3" font-size="11" fill="#333" stroke="#333" stroke-width="0.25" text-anchor="middle" textLength="31" lengthAdjust="spacingAndGlyphs">2,650</text><text x="409.9" y="207.3" font-size="11" fill="#333" stroke="#333" stroke-width="0.25" text-anchor="middle" textLength="31" lengthAdjust="spacingAndGlyphs">2,700</text><text x="456.7" y="207.3" font-size="11" fill="#333" stroke="#333" stroke-width="0.25" text-anchor="middle" textLength="31" lengthAdjust="spacingAndGlyphs">2,750</text><text x="503.5" y="207.3" font-size="11" fill="#333" stroke="#333" stroke-width="0.25" text-anchor="middle" textLength="31" lengthAdjust="spacingAndGlyphs">2,800</text><text x="343.0" y="221.0" font-size="12" fill="#222">Raman Shift (cm<tspan font-size="7.5" dy="-4.5">-1</tspan><tspan dy="4.5">)</tspan></text>
<text transform="translate(252.6 156.5) rotate(-90)" font-size="12.5" fill="#222" textLength="112.5" lengthAdjust="spacingAndGlyphs">Intensity (arb. units)</text>
<rect x="281.5" y="31" width="70" height="19.5" fill="#fff" stroke="#8a8a8a" stroke-width="1"/>
<text x="287.3" y="44.6" font-size="12.5" fill="#333" stroke="#333" stroke-width="0.2" textLength="58.7" lengthAdjust="spacingAndGlyphs">monolayer</text>
<path d="M270.0 183.1 L270.9 183.3 L271.8 182.9 L272.7 182.4 L273.6 182.7 L274.5 182.3 L275.4 183.0 L276.3 184.0 L277.2 182.6 L278.1 182.5 L279.0 183.3 L279.9 183.2 L280.8 183.0 L281.7 182.2 L282.6 182.8 L283.5 183.4 L284.4 181.8 L285.3 182.5 L286.2 181.3 L287.1 181.8 L288.0 181.3 L288.9 182.5 L289.8 181.7 L290.7 182.9 L291.6 182.8 L292.5 182.5 L293.4 180.7 L294.3 182.2 L295.2 182.5 L296.1 182.6 L297.0 181.3 L297.9 182.1 L298.8 181.7 L299.7 181.8 L300.6 183.2 L301.5 181.7 L302.4 182.3 L303.3 182.9 L304.2 181.8 L305.1 182.1 L306.0 182.2 L306.9 182.1 L307.8 181.1 L308.7 182.1 L309.6 183.0 L310.5 180.7 L311.4 182.5 L312.3 181.9 L313.2 181.3 L314.1 183.3 L315.0 182.2 L315.9 180.7 L316.8 181.6 L317.7 181.9 L318.6 181.3 L319.5 181.9 L320.4 181.2 L321.3 181.7 L322.2 182.3 L323.1 180.5 L324.0 181.1 L324.9 180.5 L325.8 180.9 L326.7 179.8 L327.6 180.2 L328.5 180.4 L329.4 181.1 L330.3 181.2 L331.2 179.1 L332.1 179.5 L333.0 180.5 L333.9 178.2 L334.8 179.3 L335.7 179.5 L336.6 180.4 L337.5 179.8 L338.4 178.8 L339.3 178.6 L340.2 178.5 L341.1 179.7 L342.0 177.9 L342.9 177.7 L343.8 178.0 L344.7 177.3 L345.6 176.9 L346.5 175.7 L347.4 176.2 L348.3 175.4 L349.2 176.2 L350.1 175.2 L351.0 174.0 L351.9 173.8 L352.8 172.1 L353.7 172.4 L354.6 170.4 L355.5 169.7 L356.4 166.7 L357.3 166.7 L358.2 163.2 L359.1 160.9 L360.0 160.5 L360.9 157.6 L361.8 156.0 L362.7 155.3 L363.6 149.2 L364.5 146.0 L365.4 143.2 L366.3 139.5 L367.2 134.6 L368.1 130.0 L369.0 126.2 L369.9 120.9 L370.8 113.8 L371.7 109.2 L372.6 103.5 L373.5 96.2 L374.4 91.6 L375.3 83.9 L376.2 79.8 L377.1 72.6 L378.0 66.2 L378.9 59.3 L379.8 54.1 L380.7 46.2 L381.6 42.3 L382.5 39.7 L383.4 32.5 L384.3 33.2 L385.2 27.4 L386.1 29.2 L387.0 26.4 L387.9 28.8 L388.8 29.1 L389.7 28.9 L390.6 35.4 L391.5 39.3 L392.4 41.6 L393.3 46.1 L394.2 51.6 L395.1 56.2 L396.0 64.8 L396.9 68.9 L397.8 75.8 L398.7 81.2 L399.6 87.7 L400.5 93.2 L401.4 102.2 L402.3 106.5 L403.2 113.5 L404.1 118.0 L405.0 122.4 L405.9 127.8 L406.8 132.2 L407.7 137.2 L408.6 140.9 L409.5 144.7 L410.4 147.2 L411.3 150.9 L412.2 156.3 L413.1 156.7 L414.0 158.8 L414.9 162.2 L415.8 165.2 L416.7 164.3 L417.6 167.1 L418.5 168.1 L419.4 168.3 L420.3 171.7 L421.2 172.0 L422.1 173.0 L423.0 173.0 L423.9 174.8 L424.8 174.5 L425.7 175.4 L426.6 175.1 L427.5 175.4 L428.4 178.0 L429.3 176.8 L430.2 177.8 L431.1 177.8 L432.0 177.7 L432.9 177.9 L433.8 179.1 L434.7 178.5 L435.6 178.8 L436.5 179.2 L437.4 180.3 L438.3 180.0 L439.2 179.9 L440.1 179.3 L441.0 178.8 L441.9 180.8 L442.8 180.9 L443.7 180.2 L444.6 180.8 L445.5 181.1 L446.4 181.2 L447.3 181.4 L448.2 180.4 L449.1 182.1 L450.0 180.0 L450.9 181.7 L451.8 181.5 L452.7 181.9 L453.6 182.7 L454.5 182.5 L455.4 180.5 L456.3 180.1 L457.2 182.2 L458.1 180.8 L459.0 181.6 L459.9 182.3 L460.8 180.5 L461.7 180.2 L462.6 182.0 L463.5 181.9 L464.4 181.8 L465.3 182.0 L466.2 181.4 L467.1 180.9 L468.0 182.0 L468.9 181.4 L469.8 180.9 L470.7 182.6 L471.6 182.2 L472.5 182.6 L473.4 181.6 L474.3 181.9 L475.2 181.6 L476.1 181.8 L477.0 182.6 L477.9 181.9 L478.8 182.8 L479.7 182.8 L480.6 184.1 L481.5 181.5 L482.4 183.3 L483.3 182.6 L484.2 182.7 L485.1 181.6 L486.0 182.4 L486.9 183.3 L487.8 182.7 L488.7 182.9 L489.6 182.6 L490.5 183.7 L491.4 182.8 L492.3 181.2 L493.2 182.4 L494.1 181.4 L495.0 180.5 L495.9 182.5 L496.8 184.0 L497.7 183.0 L498.6 182.1 L499.5 182.3 L500.4 183.9 L501.3 183.2 L502.2 183.1 L503.1 183.0" fill="none" stroke="#111" stroke-width="1.3" stroke-linejoin="round"/>
<path d="M373 107H402" stroke="#cc2c3e" stroke-width="1.6"/>
<path d="M371.5 107L376 104.5V109.5Z M403.5 107L399 104.5V109.5Z" fill="#cc2c3e"/>
<text x="315.8" y="111.5" font-size="12.5" fill="#cc2c3e" stroke="#cc2c3e" stroke-width="0.2" textLength="35.5" lengthAdjust="spacingAndGlyphs">32 cm</text><text x="353" y="106.3" font-size="8" fill="#cc2c3e" textLength="7" lengthAdjust="spacingAndGlyphs">-1</text>
<rect x="274.5" y="233.5" width="228.0" height="159.0" fill="none" stroke="#8a8a8a" stroke-width="1"/>
<path d="M274.5 392.5V397.5M283.6 392.5V395.0M292.7 392.5V395.0M301.9 392.5V395.0M311.0 392.5V395.0M320.1 392.5V397.5M329.2 392.5V395.0M338.3 392.5V395.0M347.5 392.5V395.0M356.6 392.5V395.0M365.7 392.5V397.5M374.8 392.5V395.0M383.9 392.5V395.0M393.1 392.5V395.0M402.2 392.5V395.0M411.3 392.5V397.5M420.4 392.5V395.0M429.5 392.5V395.0M438.7 392.5V395.0M447.8 392.5V395.0M456.9 392.5V397.5M466.0 392.5V395.0M475.1 392.5V395.0M484.3 392.5V395.0M493.4 392.5V395.0M502.5 392.5V397.5" stroke="#8a8a8a" stroke-width="1"/><text x="274.5" y="408.6" font-size="11" fill="#333" stroke="#333" stroke-width="0.25" text-anchor="middle" textLength="31" lengthAdjust="spacingAndGlyphs">2,550</text><text x="320.1" y="408.6" font-size="11" fill="#333" stroke="#333" stroke-width="0.25" text-anchor="middle" textLength="31" lengthAdjust="spacingAndGlyphs">2,600</text><text x="365.7" y="408.6" font-size="11" fill="#333" stroke="#333" stroke-width="0.25" text-anchor="middle" textLength="31" lengthAdjust="spacingAndGlyphs">2,650</text><text x="411.3" y="408.6" font-size="11" fill="#333" stroke="#333" stroke-width="0.25" text-anchor="middle" textLength="31" lengthAdjust="spacingAndGlyphs">2,700</text><text x="456.9" y="408.6" font-size="11" fill="#333" stroke="#333" stroke-width="0.25" text-anchor="middle" textLength="31" lengthAdjust="spacingAndGlyphs">2,750</text><text x="502.5" y="408.6" font-size="11" fill="#333" stroke="#333" stroke-width="0.25" text-anchor="middle" textLength="31" lengthAdjust="spacingAndGlyphs">2,800</text><text x="342.7" y="421.5" font-size="12" fill="#222">Raman Shift (cm<tspan font-size="7.5" dy="-4.5">-1</tspan><tspan dy="4.5">)</tspan></text>
<text transform="translate(255.8 366.5) rotate(-90)" font-size="12.5" fill="#222" textLength="112.5" lengthAdjust="spacingAndGlyphs">Intensity (arb. units)</text>
<path d="M275.1 385.6 L276.0 386.4 L276.9 386.1 L277.9 385.7 L278.8 384.3 L279.7 386.0 L280.6 384.7 L281.5 386.7 L282.4 384.0 L283.3 385.3 L284.3 385.4 L285.2 383.9 L286.1 387.3 L287.0 387.0 L287.9 384.9 L288.8 386.2 L289.7 385.8 L290.7 382.4 L291.6 385.6 L292.5 385.2 L293.4 385.3 L294.3 384.0 L295.2 384.9 L296.1 385.0 L297.1 386.5 L298.0 385.5 L298.9 385.0 L299.8 386.7 L300.7 384.4 L301.6 384.6 L302.5 382.9 L303.4 386.8 L304.4 386.1 L305.3 386.0 L306.2 385.7 L307.1 385.0 L308.0 385.1 L308.9 384.6 L309.8 384.6 L310.8 384.8 L311.7 386.5 L312.6 385.3 L313.5 384.6 L314.4 383.9 L315.3 383.8 L316.2 386.3 L317.2 385.0 L318.1 384.4 L319.0 383.8 L319.9 382.8 L320.8 383.9 L321.7 384.8 L322.6 383.0 L323.6 382.9 L324.5 382.6 L325.4 382.6 L326.3 380.2 L327.2 381.5 L328.1 380.3 L329.0 382.1 L330.0 379.6 L330.9 380.9 L331.8 381.7 L332.7 378.8 L333.6 377.8 L334.5 378.3 L335.4 377.4 L336.4 375.3 L337.3 376.6 L338.2 378.1 L339.1 374.1 L340.0 373.3 L340.9 371.2 L341.8 372.3 L342.8 368.9 L343.7 368.1 L344.6 370.6 L345.5 366.0 L346.4 367.8 L347.3 367.1 L348.2 363.6 L349.1 362.4 L350.1 363.1 L351.0 357.9 L351.9 355.9 L352.8 353.3 L353.7 354.5 L354.6 355.9 L355.5 354.0 L356.5 349.8 L357.4 349.3 L358.3 349.2 L359.2 350.2 L360.1 349.1 L361.0 349.7 L361.9 349.8 L362.9 348.6 L363.8 349.2 L364.7 350.0 L365.6 349.6 L366.5 350.7 L367.4 352.9 L368.3 350.2 L369.3 348.6 L370.2 344.8 L371.1 348.3 L372.0 343.4 L372.9 343.5 L373.8 345.0 L374.7 341.6 L375.7 336.5 L376.6 329.8 L377.5 328.6 L378.4 323.7 L379.3 321.9 L380.2 321.1 L381.1 311.9 L382.1 301.8 L383.0 291.7 L383.9 286.9 L384.8 281.7 L385.7 274.6 L386.6 271.9 L387.5 263.2 L388.4 264.2 L389.4 260.1 L390.3 257.0 L391.2 250.9 L392.1 252.6 L393.0 250.7 L393.9 250.3 L394.8 251.1 L395.8 248.8 L396.7 248.3 L397.6 253.9 L398.5 250.5 L399.4 250.4 L400.3 251.0 L401.2 241.9 L402.2 242.5 L403.1 242.8 L404.0 241.1 L404.9 236.7 L405.8 238.8 L406.7 236.7 L407.6 233.7 L408.6 236.1 L409.5 243.1 L410.4 243.9 L411.3 239.8 L412.2 251.4 L413.1 252.3 L414.0 257.2 L415.0 256.3 L415.9 259.9 L416.8 261.0 L417.7 273.4 L418.6 269.3 L419.5 276.2 L420.4 273.2 L421.4 278.2 L422.3 277.1 L423.2 284.3 L424.1 291.3 L425.0 289.9 L425.9 299.7 L426.8 302.5 L427.8 303.9 L428.7 310.1 L429.6 315.1 L430.5 320.7 L431.4 324.0 L432.3 328.1 L433.2 333.6 L434.1 336.4 L435.1 339.8 L436.0 345.7 L436.9 350.4 L437.8 348.5 L438.7 353.5 L439.6 354.5 L440.5 355.9 L441.5 360.7 L442.4 360.0 L443.3 364.8 L444.2 362.4 L445.1 365.6 L446.0 365.9 L446.9 366.5 L447.9 369.9 L448.8 370.0 L449.7 372.4 L450.6 372.5 L451.5 372.1 L452.4 374.6 L453.3 375.8 L454.3 378.0 L455.2 376.4 L456.1 378.4 L457.0 377.1 L457.9 380.9 L458.8 379.2 L459.7 378.8 L460.7 381.5 L461.6 383.4 L462.5 380.7 L463.4 381.6 L464.3 382.5 L465.2 382.4 L466.1 384.6 L467.1 383.6 L468.0 384.0 L468.9 385.9 L469.8 384.7 L470.7 386.3 L471.6 385.1 L472.5 385.1 L473.5 384.8 L474.4 388.9 L475.3 386.7 L476.2 387.4 L477.1 387.2 L478.0 387.5 L478.9 387.5 L479.9 389.4 L480.8 386.5 L481.7 386.1 L482.6 386.7 L483.5 386.4 L484.4 388.5 L485.3 388.6 L486.2 386.9 L487.2 386.5 L488.1 387.6 L489.0 389.3 L489.9 385.2 L490.8 388.5 L491.7 387.0 L492.6 389.0 L493.6 387.0 L494.5 387.8 L495.4 386.6 L496.3 387.1 L497.2 389.4 L498.1 388.8 L499.0 387.6 L500.0 387.2 L500.9 386.2 L501.8 387.6" fill="none" stroke="#111" stroke-width="1.25" stroke-linejoin="round"/>
<path d="M274.7 389.0 L275.1 389.0 L275.6 389.0 L276.0 389.0 L276.5 389.0 L276.9 389.0 L277.4 389.0 L277.9 389.0 L278.3 389.0 L278.8 389.0 L279.2 389.0 L279.7 389.0 L280.1 389.0 L280.6 389.0 L281.1 389.0 L281.5 389.0 L282.0 389.0 L282.4 389.0 L282.9 389.0 L283.3 389.0 L283.8 389.0 L284.3 388.9 L284.7 388.9 L285.2 388.9 L285.6 388.9 L286.1 388.9 L286.5 388.9 L287.0 388.9 L287.5 388.9 L287.9 388.9 L288.4 388.9 L288.8 388.9 L289.3 388.9 L289.7 388.9 L290.2 388.9 L290.7 388.9 L291.1 388.9 L291.6 388.9 L292.0 388.9 L292.5 388.9 L292.9 388.8 L293.4 388.8 L293.9 388.8 L294.3 388.8 L294.8 388.8 L295.2 388.8 L295.7 388.8 L296.1 388.8 L296.6 388.8 L297.1 388.8 L297.5 388.8 L298.0 388.8 L298.4 388.8 L298.9 388.8 L299.3 388.7 L299.8 388.7 L300.2 388.7 L300.7 388.7 L301.2 388.7 L301.6 388.7 L302.1 388.7 L302.5 388.7 L303.0 388.7 L303.4 388.7 L303.9 388.6 L304.4 388.6 L304.8 388.6 L305.3 388.6 L305.7 388.6 L306.2 388.6 L306.6 388.6 L307.1 388.6 L307.6 388.6 L308.0 388.5 L308.5 388.5 L308.9 388.5 L309.4 388.5 L309.8 388.5 L310.3 388.5 L310.8 388.5 L311.2 388.4 L311.7 388.4 L312.1 388.4 L312.6 388.4 L313.0 388.4 L313.5 388.3 L314.0 388.3 L314.4 388.3 L314.9 388.3 L315.3 388.3 L315.8 388.2 L316.2 388.2 L316.7 388.2 L317.2 388.2 L317.6 388.2 L318.1 388.1 L318.5 388.1 L319.0 388.1 L319.4 388.0 L319.9 388.0 L320.4 388.0 L320.8 388.0 L321.3 387.9 L321.7 387.9 L322.2 387.9 L322.6 387.8 L323.1 387.8 L323.6 387.7 L324.0 387.7 L324.5 387.7 L324.9 387.6 L325.4 387.6 L325.8 387.5 L326.3 387.5 L326.8 387.4 L327.2 387.4 L327.7 387.3 L328.1 387.3 L328.6 387.2 L329.0 387.2 L329.5 387.1 L330.0 387.0 L330.4 387.0 L330.9 386.9 L331.3 386.8 L331.8 386.7 L332.2 386.7 L332.7 386.6 L333.2 386.5 L333.6 386.4 L334.1 386.3 L334.5 386.2 L335.0 386.1 L335.4 386.0 L335.9 385.9 L336.4 385.7 L336.8 385.6 L337.3 385.5 L337.7 385.3 L338.2 385.2 L338.6 385.0 L339.1 384.9 L339.6 384.7 L340.0 384.5 L340.5 384.3 L340.9 384.1 L341.4 383.9 L341.8 383.6 L342.3 383.4 L342.8 383.1 L343.2 382.9 L343.7 382.6 L344.1 382.3 L344.6 382.0 L345.0 381.7 L345.5 381.3 L345.9 380.9 L346.4 380.5 L346.9 380.1 L347.3 379.7 L347.8 379.3 L348.2 378.8 L348.7 378.3 L349.1 377.8 L349.6 377.3 L350.1 376.8 L350.5 376.2 L351.0 375.7 L351.4 375.1 L351.9 374.5 L352.3 374.0 L352.8 373.4 L353.3 372.9 L353.7 372.4 L354.2 372.0 L354.6 371.5 L355.1 371.2 L355.5 370.9 L356.0 370.6 L356.5 370.4 L356.9 370.3 L357.4 370.3 L357.8 370.4 L358.3 370.5 L358.7 370.7 L359.2 371.0 L359.7 371.3 L360.1 371.7 L360.6 372.1 L361.0 372.6 L361.5 373.1 L361.9 373.7 L362.4 374.2 L362.9 374.8 L363.3 375.3 L363.8 375.9 L364.2 376.4 L364.7 377.0 L365.1 377.5 L365.6 378.0 L366.1 378.5 L366.5 379.0 L367.0 379.4 L367.4 379.9 L367.9 380.3 L368.3 380.7 L368.8 381.1 L369.3 381.4 L369.7 381.8 L370.2 382.1 L370.6 382.4 L371.1 382.7 L371.5 383.0 L372.0 383.3 L372.5 383.5 L372.9 383.7 L373.4 384.0 L373.8 384.2 L374.3 384.4 L374.7 384.6 L375.2 384.7 L375.7 384.9 L376.1 385.1 L376.6 385.2 L377.0 385.4 L377.5 385.5 L377.9 385.7 L378.4 385.8 L378.9 385.9 L379.3 386.0 L379.8 386.1 L380.2 386.2 L380.7 386.3 L381.1 386.4 L381.6 386.5 L382.1 386.6 L382.5 386.7 L383.0 386.8 L383.4 386.9 L383.9 386.9 L384.3 387.0 L384.8 387.1 L385.3 387.1 L385.7 387.2 L386.2 387.2 L386.6 387.3 L387.1 387.4 L387.5 387.4 L388.0 387.5 L388.4 387.5 L388.9 387.6 L389.4 387.6 L389.8 387.6 L390.3 387.7 L390.7 387.7 L391.2 387.8 L391.6 387.8 L392.1 387.8 L392.6 387.9 L393.0 387.9 L393.5 387.9 L393.9 388.0 L394.4 388.0 L394.8 388.0 L395.3 388.1 L395.8 388.1 L396.2 388.1 L396.7 388.1 L397.1 388.2 L397.6 388.2 L398.0 388.2 L398.5 388.2 L399.0 388.3 L399.4 388.3 L399.9 388.3 L400.3 388.3 L400.8 388.3 L401.2 388.4 L401.7 388.4 L402.2 388.4 L402.6 388.4 L403.1 388.4 L403.5 388.4 L404.0 388.5 L404.4 388.5 L404.9 388.5 L405.4 388.5 L405.8 388.5 L406.3 388.5 L406.7 388.5 L407.2 388.6 L407.6 388.6 L408.1 388.6 L408.6 388.6 L409.0 388.6 L409.5 388.6 L409.9 388.6 L410.4 388.6 L410.8 388.7 L411.3 388.7 L411.8 388.7 L412.2 388.7 L412.7 388.7 L413.1 388.7 L413.6 388.7 L414.0 388.7 L414.5 388.7 L415.0 388.7 L415.4 388.7 L415.9 388.8 L416.3 388.8 L416.8 388.8 L417.2 388.8 L417.7 388.8 L418.2 388.8 L418.6 388.8 L419.1 388.8 L419.5 388.8 L420.0 388.8 L420.4 388.8 L420.9 388.8 L421.4 388.8 L421.8 388.8 L422.3 388.9 L422.7 388.9 L423.2 388.9 L423.6 388.9 L424.1 388.9 L424.6 388.9 L425.0 388.9 L425.5 388.9 L425.9 388.9 L426.4 388.9 L426.8 388.9 L427.3 388.9 L427.8 388.9 L428.2 388.9 L428.7 388.9 L429.1 388.9 L429.6 388.9 L430.0 388.9 L430.5 388.9 L431.0 389.0 L431.4 389.0 L431.9 389.0 L432.3 389.0 L432.8 389.0 L433.2 389.0 L433.7 389.0 L434.1 389.0 L434.6 389.0 L435.1 389.0 L435.5 389.0 L436.0 389.0 L436.4 389.0 L436.9 389.0 L437.3 389.0 L437.8 389.0 L438.3 389.0 L438.7 389.0 L439.2 389.0 L439.6 389.0 L440.1 389.0 L440.5 389.0 L441.0 389.0 L441.5 389.0 L441.9 389.0 L442.4 389.0 L442.8 389.0 L443.3 389.0 L443.7 389.0 L444.2 389.0 L444.7 389.1 L445.1 389.1 L445.6 389.1 L446.0 389.1 L446.5 389.1 L446.9 389.1 L447.4 389.1 L447.9 389.1 L448.3 389.1 L448.8 389.1 L449.2 389.1 L449.7 389.1 L450.1 389.1 L450.6 389.1 L451.1 389.1 L451.5 389.1 L452.0 389.1 L452.4 389.1 L452.9 389.1 L453.3 389.1 L453.8 389.1 L454.3 389.1 L454.7 389.1 L455.2 389.1 L455.6 389.1 L456.1 389.1 L456.5 389.1 L457.0 389.1 L457.5 389.1 L457.9 389.1 L458.4 389.1 L458.8 389.1 L459.3 389.1 L459.7 389.1 L460.2 389.1 L460.7 389.1 L461.1 389.1 L461.6 389.1 L462.0 389.1 L462.5 389.1 L462.9 389.1 L463.4 389.1 L463.9 389.1 L464.3 389.1 L464.8 389.1 L465.2 389.1 L465.7 389.1 L466.1 389.1 L466.6 389.1 L467.1 389.1 L467.5 389.1 L468.0 389.1 L468.4 389.1 L468.9 389.1 L469.3 389.1 L469.8 389.1 L470.3 389.2 L470.7 389.2 L471.2 389.2 L471.6 389.2 L472.1 389.2 L472.5 389.2 L473.0 389.2 L473.5 389.2 L473.9 389.2 L474.4 389.2 L474.8 389.2 L475.3 389.2 L475.7 389.2 L476.2 389.2 L476.7 389.2 L477.1 389.2 L477.6 389.2 L478.0 389.2 L478.5 389.2 L478.9 389.2 L479.4 389.2 L479.9 389.2 L480.3 389.2 L480.8 389.2 L481.2 389.2 L481.7 389.2 L482.1 389.2 L482.6 389.2 L483.0 389.2 L483.5 389.2 L484.0 389.2 L484.4 389.2 L484.9 389.2 L485.3 389.2 L485.8 389.2 L486.2 389.2 L486.7 389.2 L487.2 389.2 L487.6 389.2 L488.1 389.2 L488.5 389.2 L489.0 389.2 L489.4 389.2 L489.9 389.2 L490.4 389.2 L490.8 389.2 L491.3 389.2 L491.7 389.2 L492.2 389.2 L492.6 389.2 L493.1 389.2 L493.6 389.2 L494.0 389.2 L494.5 389.2 L494.9 389.2 L495.4 389.2 L495.8 389.2 L496.3 389.2 L496.8 389.2 L497.2 389.2 L497.7 389.2 L498.1 389.2 L498.6 389.2 L499.0 389.2 L499.5 389.2 L500.0 389.2 L500.4 389.2 L500.9 389.2 L501.3 389.2 L501.8 389.2 L502.2 389.2" fill="none" stroke="#f0a070" stroke-width="1.2"/><path d="M274.7 388.3 L275.1 388.3 L275.6 388.3 L276.0 388.3 L276.5 388.3 L276.9 388.3 L277.4 388.2 L277.9 388.2 L278.3 388.2 L278.8 388.2 L279.2 388.2 L279.7 388.2 L280.1 388.2 L280.6 388.2 L281.1 388.2 L281.5 388.2 L282.0 388.2 L282.4 388.1 L282.9 388.1 L283.3 388.1 L283.8 388.1 L284.3 388.1 L284.7 388.1 L285.2 388.1 L285.6 388.1 L286.1 388.1 L286.5 388.1 L287.0 388.0 L287.5 388.0 L287.9 388.0 L288.4 388.0 L288.8 388.0 L289.3 388.0 L289.7 388.0 L290.2 388.0 L290.7 388.0 L291.1 387.9 L291.6 387.9 L292.0 387.9 L292.5 387.9 L292.9 387.9 L293.4 387.9 L293.9 387.9 L294.3 387.9 L294.8 387.8 L295.2 387.8 L295.7 387.8 L296.1 387.8 L296.6 387.8 L297.1 387.8 L297.5 387.8 L298.0 387.7 L298.4 387.7 L298.9 387.7 L299.3 387.7 L299.8 387.7 L300.2 387.7 L300.7 387.6 L301.2 387.6 L301.6 387.6 L302.1 387.6 L302.5 387.6 L303.0 387.6 L303.4 387.5 L303.9 387.5 L304.4 387.5 L304.8 387.5 L305.3 387.5 L305.7 387.4 L306.2 387.4 L306.6 387.4 L307.1 387.4 L307.6 387.4 L308.0 387.3 L308.5 387.3 L308.9 387.3 L309.4 387.3 L309.8 387.3 L310.3 387.2 L310.8 387.2 L311.2 387.2 L311.7 387.2 L312.1 387.1 L312.6 387.1 L313.0 387.1 L313.5 387.1 L314.0 387.0 L314.4 387.0 L314.9 387.0 L315.3 386.9 L315.8 386.9 L316.2 386.9 L316.7 386.9 L317.2 386.8 L317.6 386.8 L318.1 386.8 L318.5 386.7 L319.0 386.7 L319.4 386.7 L319.9 386.6 L320.4 386.6 L320.8 386.6 L321.3 386.5 L321.7 386.5 L322.2 386.5 L322.6 386.4 L323.1 386.4 L323.6 386.4 L324.0 386.3 L324.5 386.3 L324.9 386.2 L325.4 386.2 L325.8 386.1 L326.3 386.1 L326.8 386.1 L327.2 386.0 L327.7 386.0 L328.1 385.9 L328.6 385.9 L329.0 385.8 L329.5 385.8 L330.0 385.7 L330.4 385.7 L330.9 385.6 L331.3 385.6 L331.8 385.5 L332.2 385.4 L332.7 385.4 L333.2 385.3 L333.6 385.3 L334.1 385.2 L334.5 385.1 L335.0 385.1 L335.4 385.0 L335.9 384.9 L336.4 384.9 L336.8 384.8 L337.3 384.7 L337.7 384.6 L338.2 384.6 L338.6 384.5 L339.1 384.4 L339.6 384.3 L340.0 384.2 L340.5 384.1 L340.9 384.0 L341.4 384.0 L341.8 383.9 L342.3 383.8 L342.8 383.7 L343.2 383.6 L343.7 383.4 L344.1 383.3 L344.6 383.2 L345.0 383.1 L345.5 383.0 L345.9 382.9 L346.4 382.7 L346.9 382.6 L347.3 382.5 L347.8 382.3 L348.2 382.2 L348.7 382.1 L349.1 381.9 L349.6 381.8 L350.1 381.6 L350.5 381.4 L351.0 381.3 L351.4 381.1 L351.9 380.9 L352.3 380.7 L352.8 380.5 L353.3 380.3 L353.7 380.1 L354.2 379.9 L354.6 379.7 L355.1 379.5 L355.5 379.3 L356.0 379.0 L356.5 378.8 L356.9 378.5 L357.4 378.2 L357.8 378.0 L358.3 377.7 L358.7 377.4 L359.2 377.1 L359.7 376.7 L360.1 376.4 L360.6 376.1 L361.0 375.7 L361.5 375.3 L361.9 375.0 L362.4 374.6 L362.9 374.1 L363.3 373.7 L363.8 373.3 L364.2 372.8 L364.7 372.3 L365.1 371.8 L365.6 371.3 L366.1 370.7 L366.5 370.1 L367.0 369.5 L367.4 368.9 L367.9 368.2 L368.3 367.5 L368.8 366.8 L369.3 366.1 L369.7 365.3 L370.2 364.5 L370.6 363.6 L371.1 362.7 L371.5 361.8 L372.0 360.8 L372.5 359.8 L372.9 358.7 L373.4 357.6 L373.8 356.4 L374.3 355.2 L374.7 353.9 L375.2 352.6 L375.7 351.2 L376.1 349.7 L376.6 348.2 L377.0 346.6 L377.5 344.9 L377.9 343.2 L378.4 341.4 L378.9 339.5 L379.3 337.5 L379.8 335.5 L380.2 333.4 L380.7 331.3 L381.1 329.1 L381.6 326.8 L382.1 324.5 L382.5 322.1 L383.0 319.7 L383.4 317.3 L383.9 315.0 L384.3 312.6 L384.8 310.2 L385.3 308.0 L385.7 305.8 L386.2 303.7 L386.6 301.7 L387.1 299.9 L387.5 298.2 L388.0 296.8 L388.4 295.6 L388.9 294.7 L389.4 294.0 L389.8 293.5 L390.3 293.4 L390.7 293.5 L391.2 294.0 L391.6 294.7 L392.1 295.6 L392.6 296.8 L393.0 298.2 L393.5 299.9 L393.9 301.7 L394.4 303.7 L394.8 305.8 L395.3 308.0 L395.8 310.2 L396.2 312.6 L396.7 315.0 L397.1 317.3 L397.6 319.7 L398.0 322.1 L398.5 324.5 L399.0 326.8 L399.4 329.1 L399.9 331.3 L400.3 333.4 L400.8 335.5 L401.2 337.5 L401.7 339.5 L402.2 341.4 L402.6 343.2 L403.1 344.9 L403.5 346.6 L404.0 348.2 L404.4 349.7 L404.9 351.2 L405.4 352.6 L405.8 353.9 L406.3 355.2 L406.7 356.4 L407.2 357.6 L407.6 358.7 L408.1 359.8 L408.6 360.8 L409.0 361.8 L409.5 362.7 L409.9 363.6 L410.4 364.5 L410.8 365.3 L411.3 366.1 L411.8 366.8 L412.2 367.5 L412.7 368.2 L413.1 368.9 L413.6 369.5 L414.0 370.1 L414.5 370.7 L415.0 371.3 L415.4 371.8 L415.9 372.3 L416.3 372.8 L416.8 373.3 L417.2 373.7 L417.7 374.1 L418.2 374.6 L418.6 375.0 L419.1 375.3 L419.5 375.7 L420.0 376.1 L420.4 376.4 L420.9 376.7 L421.4 377.1 L421.8 377.4 L422.3 377.7 L422.7 378.0 L423.2 378.2 L423.6 378.5 L424.1 378.8 L424.6 379.0 L425.0 379.3 L425.5 379.5 L425.9 379.7 L426.4 379.9 L426.8 380.1 L427.3 380.3 L427.8 380.5 L428.2 380.7 L428.7 380.9 L429.1 381.1 L429.6 381.3 L430.0 381.4 L430.5 381.6 L431.0 381.8 L431.4 381.9 L431.9 382.1 L432.3 382.2 L432.8 382.3 L433.2 382.5 L433.7 382.6 L434.1 382.7 L434.6 382.9 L435.1 383.0 L435.5 383.1 L436.0 383.2 L436.4 383.3 L436.9 383.4 L437.3 383.6 L437.8 383.7 L438.3 383.8 L438.7 383.9 L439.2 384.0 L439.6 384.0 L440.1 384.1 L440.5 384.2 L441.0 384.3 L441.5 384.4 L441.9 384.5 L442.4 384.6 L442.8 384.6 L443.3 384.7 L443.7 384.8 L444.2 384.9 L444.7 384.9 L445.1 385.0 L445.6 385.1 L446.0 385.1 L446.5 385.2 L446.9 385.3 L447.4 385.3 L447.9 385.4 L448.3 385.4 L448.8 385.5 L449.2 385.6 L449.7 385.6 L450.1 385.7 L450.6 385.7 L451.1 385.8 L451.5 385.8 L452.0 385.9 L452.4 385.9 L452.9 386.0 L453.3 386.0 L453.8 386.1 L454.3 386.1 L454.7 386.1 L455.2 386.2 L455.6 386.2 L456.1 386.3 L456.5 386.3 L457.0 386.4 L457.5 386.4 L457.9 386.4 L458.4 386.5 L458.8 386.5 L459.3 386.5 L459.7 386.6 L460.2 386.6 L460.7 386.6 L461.1 386.7 L461.6 386.7 L462.0 386.7 L462.5 386.8 L462.9 386.8 L463.4 386.8 L463.9 386.9 L464.3 386.9 L464.8 386.9 L465.2 386.9 L465.7 387.0 L466.1 387.0 L466.6 387.0 L467.1 387.1 L467.5 387.1 L468.0 387.1 L468.4 387.1 L468.9 387.2 L469.3 387.2 L469.8 387.2 L470.3 387.2 L470.7 387.3 L471.2 387.3 L471.6 387.3 L472.1 387.3 L472.5 387.3 L473.0 387.4 L473.5 387.4 L473.9 387.4 L474.4 387.4 L474.8 387.4 L475.3 387.5 L475.7 387.5 L476.2 387.5 L476.7 387.5 L477.1 387.5 L477.6 387.6 L478.0 387.6 L478.5 387.6 L478.9 387.6 L479.4 387.6 L479.9 387.6 L480.3 387.7 L480.8 387.7 L481.2 387.7 L481.7 387.7 L482.1 387.7 L482.6 387.7 L483.0 387.8 L483.5 387.8 L484.0 387.8 L484.4 387.8 L484.9 387.8 L485.3 387.8 L485.8 387.8 L486.2 387.9 L486.7 387.9 L487.2 387.9 L487.6 387.9 L488.1 387.9 L488.5 387.9 L489.0 387.9 L489.4 387.9 L489.9 388.0 L490.4 388.0 L490.8 388.0 L491.3 388.0 L491.7 388.0 L492.2 388.0 L492.6 388.0 L493.1 388.0 L493.6 388.0 L494.0 388.1 L494.5 388.1 L494.9 388.1 L495.4 388.1 L495.8 388.1 L496.3 388.1 L496.8 388.1 L497.2 388.1 L497.7 388.1 L498.1 388.1 L498.6 388.2 L499.0 388.2 L499.5 388.2 L500.0 388.2 L500.4 388.2 L500.9 388.2 L501.3 388.2 L501.8 388.2 L502.2 388.2" fill="none" stroke="#cc4a55" stroke-width="1.2"/><path d="M274.7 388.5 L275.1 388.5 L275.6 388.5 L276.0 388.5 L276.5 388.5 L276.9 388.5 L277.4 388.5 L277.9 388.5 L278.3 388.5 L278.8 388.5 L279.2 388.5 L279.7 388.5 L280.1 388.5 L280.6 388.5 L281.1 388.5 L281.5 388.5 L282.0 388.5 L282.4 388.5 L282.9 388.4 L283.3 388.4 L283.8 388.4 L284.3 388.4 L284.7 388.4 L285.2 388.4 L285.6 388.4 L286.1 388.4 L286.5 388.4 L287.0 388.4 L287.5 388.4 L287.9 388.4 L288.4 388.4 L288.8 388.4 L289.3 388.4 L289.7 388.3 L290.2 388.3 L290.7 388.3 L291.1 388.3 L291.6 388.3 L292.0 388.3 L292.5 388.3 L292.9 388.3 L293.4 388.3 L293.9 388.3 L294.3 388.3 L294.8 388.3 L295.2 388.3 L295.7 388.2 L296.1 388.2 L296.6 388.2 L297.1 388.2 L297.5 388.2 L298.0 388.2 L298.4 388.2 L298.9 388.2 L299.3 388.2 L299.8 388.2 L300.2 388.2 L300.7 388.1 L301.2 388.1 L301.6 388.1 L302.1 388.1 L302.5 388.1 L303.0 388.1 L303.4 388.1 L303.9 388.1 L304.4 388.1 L304.8 388.0 L305.3 388.0 L305.7 388.0 L306.2 388.0 L306.6 388.0 L307.1 388.0 L307.6 388.0 L308.0 388.0 L308.5 388.0 L308.9 387.9 L309.4 387.9 L309.8 387.9 L310.3 387.9 L310.8 387.9 L311.2 387.9 L311.7 387.9 L312.1 387.9 L312.6 387.8 L313.0 387.8 L313.5 387.8 L314.0 387.8 L314.4 387.8 L314.9 387.8 L315.3 387.8 L315.8 387.7 L316.2 387.7 L316.7 387.7 L317.2 387.7 L317.6 387.7 L318.1 387.7 L318.5 387.6 L319.0 387.6 L319.4 387.6 L319.9 387.6 L320.4 387.6 L320.8 387.6 L321.3 387.5 L321.7 387.5 L322.2 387.5 L322.6 387.5 L323.1 387.5 L323.6 387.4 L324.0 387.4 L324.5 387.4 L324.9 387.4 L325.4 387.4 L325.8 387.3 L326.3 387.3 L326.8 387.3 L327.2 387.3 L327.7 387.3 L328.1 387.2 L328.6 387.2 L329.0 387.2 L329.5 387.2 L330.0 387.1 L330.4 387.1 L330.9 387.1 L331.3 387.1 L331.8 387.0 L332.2 387.0 L332.7 387.0 L333.2 387.0 L333.6 386.9 L334.1 386.9 L334.5 386.9 L335.0 386.8 L335.4 386.8 L335.9 386.8 L336.4 386.7 L336.8 386.7 L337.3 386.7 L337.7 386.6 L338.2 386.6 L338.6 386.6 L339.1 386.5 L339.6 386.5 L340.0 386.5 L340.5 386.4 L340.9 386.4 L341.4 386.4 L341.8 386.3 L342.3 386.3 L342.8 386.2 L343.2 386.2 L343.7 386.2 L344.1 386.1 L344.6 386.1 L345.0 386.0 L345.5 386.0 L345.9 385.9 L346.4 385.9 L346.9 385.8 L347.3 385.8 L347.8 385.7 L348.2 385.7 L348.7 385.6 L349.1 385.6 L349.6 385.5 L350.1 385.5 L350.5 385.4 L351.0 385.3 L351.4 385.3 L351.9 385.2 L352.3 385.1 L352.8 385.1 L353.3 385.0 L353.7 384.9 L354.2 384.9 L354.6 384.8 L355.1 384.7 L355.5 384.7 L356.0 384.6 L356.5 384.5 L356.9 384.4 L357.4 384.3 L357.8 384.2 L358.3 384.2 L358.7 384.1 L359.2 384.0 L359.7 383.9 L360.1 383.8 L360.6 383.7 L361.0 383.6 L361.5 383.5 L361.9 383.4 L362.4 383.3 L362.9 383.1 L363.3 383.0 L363.8 382.9 L364.2 382.8 L364.7 382.6 L365.1 382.5 L365.6 382.4 L366.1 382.2 L366.5 382.1 L367.0 381.9 L367.4 381.8 L367.9 381.6 L368.3 381.5 L368.8 381.3 L369.3 381.1 L369.7 381.0 L370.2 380.8 L370.6 380.6 L371.1 380.4 L371.5 380.2 L372.0 380.0 L372.5 379.8 L372.9 379.5 L373.4 379.3 L373.8 379.1 L374.3 378.8 L374.7 378.6 L375.2 378.3 L375.7 378.0 L376.1 377.7 L376.6 377.4 L377.0 377.1 L377.5 376.8 L377.9 376.5 L378.4 376.1 L378.9 375.8 L379.3 375.4 L379.8 375.0 L380.2 374.6 L380.7 374.2 L381.1 373.8 L381.6 373.3 L382.1 372.9 L382.5 372.4 L383.0 371.9 L383.4 371.4 L383.9 370.8 L384.3 370.2 L384.8 369.6 L385.3 369.0 L385.7 368.4 L386.2 367.7 L386.6 367.0 L387.1 366.2 L387.5 365.5 L388.0 364.6 L388.4 363.8 L388.9 362.9 L389.4 362.0 L389.8 361.0 L390.3 360.0 L390.7 358.9 L391.2 357.8 L391.6 356.7 L392.1 355.4 L392.6 354.2 L393.0 352.8 L393.5 351.5 L393.9 350.0 L394.4 348.5 L394.8 346.9 L395.3 345.2 L395.8 343.5 L396.2 341.7 L396.7 339.9 L397.1 337.9 L397.6 335.9 L398.0 333.8 L398.5 331.7 L399.0 329.5 L399.4 327.2 L399.9 324.9 L400.3 322.6 L400.8 320.2 L401.2 317.8 L401.7 315.4 L402.2 313.1 L402.6 310.7 L403.1 308.4 L403.5 306.2 L404.0 304.1 L404.4 302.1 L404.9 300.2 L405.4 298.6 L405.8 297.1 L406.3 295.8 L406.7 294.8 L407.2 294.1 L407.6 293.6 L408.1 293.4 L408.6 293.5 L409.0 293.9 L409.5 294.5 L409.9 295.4 L410.4 296.6 L410.8 297.9 L411.3 299.5 L411.8 301.3 L412.2 303.3 L412.7 305.3 L413.1 307.5 L413.6 309.8 L414.0 312.1 L414.5 314.5 L415.0 316.9 L415.4 319.3 L415.9 321.6 L416.3 324.0 L416.8 326.3 L417.2 328.6 L417.7 330.8 L418.2 333.0 L418.6 335.1 L419.1 337.1 L419.5 339.1 L420.0 341.0 L420.4 342.8 L420.9 344.6 L421.4 346.2 L421.8 347.9 L422.3 349.4 L422.7 350.9 L423.2 352.3 L423.6 353.6 L424.1 354.9 L424.6 356.2 L425.0 357.4 L425.5 358.5 L425.9 359.6 L426.4 360.6 L426.8 361.6 L427.3 362.5 L427.8 363.4 L428.2 364.3 L428.7 365.1 L429.1 365.9 L429.6 366.7 L430.0 367.4 L430.5 368.1 L431.0 368.8 L431.4 369.4 L431.9 370.0 L432.3 370.6 L432.8 371.1 L433.2 371.7 L433.7 372.2 L434.1 372.7 L434.6 373.2 L435.1 373.6 L435.5 374.1 L436.0 374.5 L436.4 374.9 L436.9 375.3 L437.3 375.6 L437.8 376.0 L438.3 376.3 L438.7 376.7 L439.2 377.0 L439.6 377.3 L440.1 377.6 L440.5 377.9 L441.0 378.2 L441.5 378.5 L441.9 378.7 L442.4 379.0 L442.8 379.2 L443.3 379.4 L443.7 379.7 L444.2 379.9 L444.7 380.1 L445.1 380.3 L445.6 380.5 L446.0 380.7 L446.5 380.9 L446.9 381.1 L447.4 381.2 L447.9 381.4 L448.3 381.6 L448.8 381.7 L449.2 381.9 L449.7 382.0 L450.1 382.2 L450.6 382.3 L451.1 382.5 L451.5 382.6 L452.0 382.7 L452.4 382.8 L452.9 383.0 L453.3 383.1 L453.8 383.2 L454.3 383.3 L454.7 383.4 L455.2 383.5 L455.6 383.6 L456.1 383.7 L456.5 383.8 L457.0 383.9 L457.5 384.0 L457.9 384.1 L458.4 384.2 L458.8 384.3 L459.3 384.4 L459.7 384.5 L460.2 384.5 L460.7 384.6 L461.1 384.7 L461.6 384.8 L462.0 384.8 L462.5 384.9 L462.9 385.0 L463.4 385.1 L463.9 385.1 L464.3 385.2 L464.8 385.2 L465.2 385.3 L465.7 385.4 L466.1 385.4 L466.6 385.5 L467.1 385.5 L467.5 385.6 L468.0 385.7 L468.4 385.7 L468.9 385.8 L469.3 385.8 L469.8 385.9 L470.3 385.9 L470.7 386.0 L471.2 386.0 L471.6 386.0 L472.1 386.1 L472.5 386.1 L473.0 386.2 L473.5 386.2 L473.9 386.3 L474.4 386.3 L474.8 386.3 L475.3 386.4 L475.7 386.4 L476.2 386.5 L476.7 386.5 L477.1 386.5 L477.6 386.6 L478.0 386.6 L478.5 386.6 L478.9 386.7 L479.4 386.7 L479.9 386.7 L480.3 386.8 L480.8 386.8 L481.2 386.8 L481.7 386.9 L482.1 386.9 L482.6 386.9 L483.0 386.9 L483.5 387.0 L484.0 387.0 L484.4 387.0 L484.9 387.1 L485.3 387.1 L485.8 387.1 L486.2 387.1 L486.7 387.2 L487.2 387.2 L487.6 387.2 L488.1 387.2 L488.5 387.2 L489.0 387.3 L489.4 387.3 L489.9 387.3 L490.4 387.3 L490.8 387.4 L491.3 387.4 L491.7 387.4 L492.2 387.4 L492.6 387.4 L493.1 387.5 L493.6 387.5 L494.0 387.5 L494.5 387.5 L494.9 387.5 L495.4 387.6 L495.8 387.6 L496.3 387.6 L496.8 387.6 L497.2 387.6 L497.7 387.6 L498.1 387.7 L498.6 387.7 L499.0 387.7 L499.5 387.7 L500.0 387.7 L500.4 387.7 L500.9 387.7 L501.3 387.8 L501.8 387.8 L502.2 387.8" fill="none" stroke="#5fd35f" stroke-width="1.2"/><path d="M274.7 389.0 L275.1 389.0 L275.6 389.0 L276.0 389.0 L276.5 389.0 L276.9 389.0 L277.4 389.0 L277.9 389.0 L278.3 389.0 L278.8 389.0 L279.2 389.0 L279.7 389.0 L280.1 389.0 L280.6 389.0 L281.1 389.0 L281.5 389.0 L282.0 389.0 L282.4 389.0 L282.9 389.0 L283.3 389.0 L283.8 389.0 L284.3 389.0 L284.7 389.0 L285.2 389.0 L285.6 389.0 L286.1 389.0 L286.5 389.0 L287.0 389.0 L287.5 389.0 L287.9 389.0 L288.4 388.9 L288.8 388.9 L289.3 388.9 L289.7 388.9 L290.2 388.9 L290.7 388.9 L291.1 388.9 L291.6 388.9 L292.0 388.9 L292.5 388.9 L292.9 388.9 L293.4 388.9 L293.9 388.9 L294.3 388.9 L294.8 388.9 L295.2 388.9 L295.7 388.9 L296.1 388.9 L296.6 388.9 L297.1 388.9 L297.5 388.9 L298.0 388.9 L298.4 388.9 L298.9 388.9 L299.3 388.9 L299.8 388.9 L300.2 388.9 L300.7 388.9 L301.2 388.9 L301.6 388.9 L302.1 388.9 L302.5 388.9 L303.0 388.9 L303.4 388.9 L303.9 388.9 L304.4 388.8 L304.8 388.8 L305.3 388.8 L305.7 388.8 L306.2 388.8 L306.6 388.8 L307.1 388.8 L307.6 388.8 L308.0 388.8 L308.5 388.8 L308.9 388.8 L309.4 388.8 L309.8 388.8 L310.3 388.8 L310.8 388.8 L311.2 388.8 L311.7 388.8 L312.1 388.8 L312.6 388.8 L313.0 388.8 L313.5 388.8 L314.0 388.8 L314.4 388.8 L314.9 388.8 L315.3 388.8 L315.8 388.7 L316.2 388.7 L316.7 388.7 L317.2 388.7 L317.6 388.7 L318.1 388.7 L318.5 388.7 L319.0 388.7 L319.4 388.7 L319.9 388.7 L320.4 388.7 L320.8 388.7 L321.3 388.7 L321.7 388.7 L322.2 388.7 L322.6 388.7 L323.1 388.7 L323.6 388.7 L324.0 388.7 L324.5 388.6 L324.9 388.6 L325.4 388.6 L325.8 388.6 L326.3 388.6 L326.8 388.6 L327.2 388.6 L327.7 388.6 L328.1 388.6 L328.6 388.6 L329.0 388.6 L329.5 388.6 L330.0 388.6 L330.4 388.6 L330.9 388.6 L331.3 388.5 L331.8 388.5 L332.2 388.5 L332.7 388.5 L333.2 388.5 L333.6 388.5 L334.1 388.5 L334.5 388.5 L335.0 388.5 L335.4 388.5 L335.9 388.5 L336.4 388.5 L336.8 388.4 L337.3 388.4 L337.7 388.4 L338.2 388.4 L338.6 388.4 L339.1 388.4 L339.6 388.4 L340.0 388.4 L340.5 388.4 L340.9 388.4 L341.4 388.3 L341.8 388.3 L342.3 388.3 L342.8 388.3 L343.2 388.3 L343.7 388.3 L344.1 388.3 L344.6 388.3 L345.0 388.3 L345.5 388.2 L345.9 388.2 L346.4 388.2 L346.9 388.2 L347.3 388.2 L347.8 388.2 L348.2 388.2 L348.7 388.2 L349.1 388.1 L349.6 388.1 L350.1 388.1 L350.5 388.1 L351.0 388.1 L351.4 388.1 L351.9 388.1 L352.3 388.0 L352.8 388.0 L353.3 388.0 L353.7 388.0 L354.2 388.0 L354.6 388.0 L355.1 387.9 L355.5 387.9 L356.0 387.9 L356.5 387.9 L356.9 387.9 L357.4 387.8 L357.8 387.8 L358.3 387.8 L358.7 387.8 L359.2 387.8 L359.7 387.7 L360.1 387.7 L360.6 387.7 L361.0 387.7 L361.5 387.6 L361.9 387.6 L362.4 387.6 L362.9 387.6 L363.3 387.5 L363.8 387.5 L364.2 387.5 L364.7 387.5 L365.1 387.4 L365.6 387.4 L366.1 387.4 L366.5 387.3 L367.0 387.3 L367.4 387.3 L367.9 387.2 L368.3 387.2 L368.8 387.2 L369.3 387.1 L369.7 387.1 L370.2 387.1 L370.6 387.0 L371.1 387.0 L371.5 386.9 L372.0 386.9 L372.5 386.9 L372.9 386.8 L373.4 386.8 L373.8 386.7 L374.3 386.7 L374.7 386.6 L375.2 386.6 L375.7 386.5 L376.1 386.5 L376.6 386.4 L377.0 386.4 L377.5 386.3 L377.9 386.3 L378.4 386.2 L378.9 386.1 L379.3 386.1 L379.8 386.0 L380.2 385.9 L380.7 385.9 L381.1 385.8 L381.6 385.7 L382.1 385.7 L382.5 385.6 L383.0 385.5 L383.4 385.4 L383.9 385.3 L384.3 385.2 L384.8 385.1 L385.3 385.0 L385.7 385.0 L386.2 384.8 L386.6 384.7 L387.1 384.6 L387.5 384.5 L388.0 384.4 L388.4 384.3 L388.9 384.2 L389.4 384.0 L389.8 383.9 L390.3 383.8 L390.7 383.6 L391.2 383.5 L391.6 383.3 L392.1 383.1 L392.6 383.0 L393.0 382.8 L393.5 382.6 L393.9 382.4 L394.4 382.2 L394.8 382.0 L395.3 381.8 L395.8 381.6 L396.2 381.3 L396.7 381.1 L397.1 380.8 L397.6 380.6 L398.0 380.3 L398.5 380.0 L399.0 379.7 L399.4 379.4 L399.9 379.1 L400.3 378.7 L400.8 378.3 L401.2 378.0 L401.7 377.6 L402.2 377.1 L402.6 376.7 L403.1 376.2 L403.5 375.7 L404.0 375.2 L404.4 374.7 L404.9 374.1 L405.4 373.5 L405.8 372.9 L406.3 372.2 L406.7 371.5 L407.2 370.8 L407.6 370.0 L408.1 369.2 L408.6 368.4 L409.0 367.5 L409.5 366.5 L409.9 365.5 L410.4 364.5 L410.8 363.4 L411.3 362.2 L411.8 361.0 L412.2 359.8 L412.7 358.5 L413.1 357.1 L413.6 355.7 L414.0 354.2 L414.5 352.7 L415.0 351.2 L415.4 349.6 L415.9 348.0 L416.3 346.4 L416.8 344.7 L417.2 343.1 L417.7 341.6 L418.2 340.0 L418.6 338.6 L419.1 337.2 L419.5 335.9 L420.0 334.8 L420.4 333.8 L420.9 333.0 L421.4 332.4 L421.8 332.0 L422.3 331.8 L422.7 331.8 L423.2 332.1 L423.6 332.5 L424.1 333.2 L424.6 334.0 L425.0 335.0 L425.5 336.2 L425.9 337.5 L426.4 338.9 L426.8 340.3 L427.3 341.9 L427.8 343.5 L428.2 345.1 L428.7 346.7 L429.1 348.3 L429.6 349.9 L430.0 351.5 L430.5 353.0 L431.0 354.5 L431.4 356.0 L431.9 357.4 L432.3 358.7 L432.8 360.0 L433.2 361.3 L433.7 362.5 L434.1 363.6 L434.6 364.7 L435.1 365.7 L435.5 366.7 L436.0 367.7 L436.4 368.5 L436.9 369.4 L437.3 370.2 L437.8 371.0 L438.3 371.7 L438.7 372.4 L439.2 373.0 L439.6 373.6 L440.1 374.2 L440.5 374.8 L441.0 375.3 L441.5 375.8 L441.9 376.3 L442.4 376.8 L442.8 377.2 L443.3 377.6 L443.7 378.0 L444.2 378.4 L444.7 378.8 L445.1 379.1 L445.6 379.5 L446.0 379.8 L446.5 380.1 L446.9 380.4 L447.4 380.6 L447.9 380.9 L448.3 381.2 L448.8 381.4 L449.2 381.6 L449.7 381.8 L450.1 382.1 L450.6 382.3 L451.1 382.5 L451.5 382.6 L452.0 382.8 L452.4 383.0 L452.9 383.2 L453.3 383.3 L453.8 383.5 L454.3 383.6 L454.7 383.8 L455.2 383.9 L455.6 384.1 L456.1 384.2 L456.5 384.3 L457.0 384.4 L457.5 384.5 L457.9 384.7 L458.4 384.8 L458.8 384.9 L459.3 385.0 L459.7 385.1 L460.2 385.2 L460.7 385.3 L461.1 385.3 L461.6 385.4 L462.0 385.5 L462.5 385.6 L462.9 385.7 L463.4 385.7 L463.9 385.8 L464.3 385.9 L464.8 386.0 L465.2 386.0 L465.7 386.1 L466.1 386.2 L466.6 386.2 L467.1 386.3 L467.5 386.3 L468.0 386.4 L468.4 386.4 L468.9 386.5 L469.3 386.5 L469.8 386.6 L470.3 386.6 L470.7 386.7 L471.2 386.7 L471.6 386.8 L472.1 386.8 L472.5 386.9 L473.0 386.9 L473.5 387.0 L473.9 387.0 L474.4 387.0 L474.8 387.1 L475.3 387.1 L475.7 387.1 L476.2 387.2 L476.7 387.2 L477.1 387.2 L477.6 387.3 L478.0 387.3 L478.5 387.3 L478.9 387.4 L479.4 387.4 L479.9 387.4 L480.3 387.5 L480.8 387.5 L481.2 387.5 L481.7 387.5 L482.1 387.6 L482.6 387.6 L483.0 387.6 L483.5 387.6 L484.0 387.7 L484.4 387.7 L484.9 387.7 L485.3 387.7 L485.8 387.8 L486.2 387.8 L486.7 387.8 L487.2 387.8 L487.6 387.8 L488.1 387.9 L488.5 387.9 L489.0 387.9 L489.4 387.9 L489.9 387.9 L490.4 388.0 L490.8 388.0 L491.3 388.0 L491.7 388.0 L492.2 388.0 L492.6 388.0 L493.1 388.1 L493.6 388.1 L494.0 388.1 L494.5 388.1 L494.9 388.1 L495.4 388.1 L495.8 388.1 L496.3 388.2 L496.8 388.2 L497.2 388.2 L497.7 388.2 L498.1 388.2 L498.6 388.2 L499.0 388.2 L499.5 388.2 L500.0 388.3 L500.4 388.3 L500.9 388.3 L501.3 388.3 L501.8 388.3 L502.2 388.3" fill="none" stroke="#3b3bb5" stroke-width="1.2"/>
<rect x="286.5" y="244.5" width="77.5" height="82" fill="#fff" stroke="#8a8a8a" stroke-width="1"/>
<path d="M291.6 255.5H308.5" stroke="#222" stroke-width="1.3"/>
<text x="313.4" y="259.3" font-size="13" fill="#222" stroke="#222" stroke-width="0.2" textLength="43.7" lengthAdjust="spacingAndGlyphs">bilayer</text>
<path d="M291.6 270.9H308.5" stroke="#f0a070" stroke-width="1.3"/>
<text x="313.4" y="275.1" font-size="13" fill="#222" stroke="#222" stroke-width="0.2">P<tspan font-size="9" dy="1.8">22</tspan></text>
<path d="M291.6 286.1H308.5" stroke="#cc4a55" stroke-width="1.3"/>
<text x="313.4" y="290.3" font-size="13" fill="#222" stroke="#222" stroke-width="0.2">P<tspan font-size="9" dy="1.8">21</tspan></text>
<path d="M291.6 301.6H308.5" stroke="#5fd35f" stroke-width="1.3"/>
<text x="313.4" y="305.8" font-size="13" fill="#222" stroke="#222" stroke-width="0.2">P<tspan font-size="9" dy="1.8">12</tspan></text>
<path d="M291.6 316.3H308.5" stroke="#3b3bb5" stroke-width="1.3"/>
<text x="313.4" y="320.5" font-size="13" fill="#222" stroke="#222" stroke-width="0.2">P<tspan font-size="9" dy="1.8">11</tspan></text>
<text x="1.9" y="22.0" font-size="19" fill="#111" stroke="#111" stroke-width="0.3" textLength="23.5" lengthAdjust="spacingAndGlyphs">(a)</text>
<text x="6.9" y="278.3" font-size="19" fill="#111" stroke="#111" stroke-width="0.3" textLength="24.3" lengthAdjust="spacingAndGlyphs">(b)</text>
<text x="236.0" y="22.0" font-size="19" fill="#111" stroke="#111" stroke-width="0.3" textLength="23.0" lengthAdjust="spacingAndGlyphs">(c)</text>
<text x="236.0" y="235.6" font-size="19" fill="#111" stroke="#111" stroke-width="0.3" textLength="23.5" lengthAdjust="spacingAndGlyphs">(d)</text>
</svg>
</body></html>
